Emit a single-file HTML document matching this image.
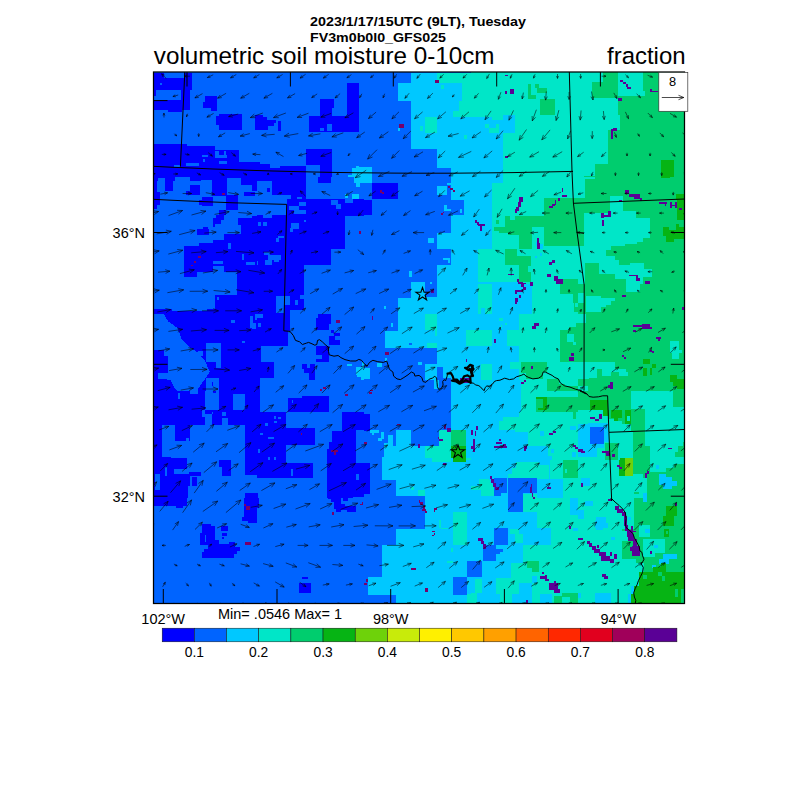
<!DOCTYPE html>
<html><head><meta charset="utf-8"><title>volumetric soil moisture 0-10cm</title>
<style>
html,body{margin:0;padding:0;background:#fff;}
svg{display:block;}
text{font-family:"Liberation Sans",sans-serif;fill:#000;}
</style></head><body>
<svg width="800" height="800" viewBox="0 0 800 800">
<rect width="800" height="800" fill="#fff"/>
<defs><clipPath id="pc"><rect x="153.5" y="72.0" width="531.0" height="531.5"/></clipPath></defs>
<g clip-path="url(#pc)" shape-rendering="crispEdges">
<rect x="153.5" y="72.0" width="531.0" height="531.5" fill="#0064ff"/>
<rect x="153.9" y="72.5" width="9.9" height="5.8" fill="#0000ff"/>
<rect x="153.9" y="78.3" width="38.1" height="11.7" fill="#0000ff"/>
<rect x="184.4" y="72.5" width="7.6" height="5.8" fill="#0000ff"/>
<rect x="160.3" y="83.1" width="1.8" height="2.1" fill="#0064ff"/>
<rect x="180.9" y="89.9" width="8.9" height="9.6" fill="#0000ff"/>
<rect x="153.9" y="99.6" width="36.0" height="10.3" fill="#0000ff"/>
<rect x="167.9" y="109.9" width="14.4" height="2.1" fill="#0000ff"/>
<rect x="153.9" y="89.9" width="2.3" height="6.2" fill="#0000ff"/>
<rect x="205.0" y="96.1" width="12.4" height="11.7" fill="#0000ff"/>
<rect x="202.9" y="102.3" width="2.1" height="5.5" fill="#0000ff"/>
<rect x="210.5" y="107.8" width="6.9" height="3.4" fill="#0000ff"/>
<rect x="218.8" y="114.0" width="23.1" height="15.8" fill="#0000ff"/>
<rect x="215.7" y="116.1" width="3.0" height="8.9" fill="#0000ff"/>
<rect x="254.5" y="115.4" width="5.5" height="14.4" fill="#0000ff"/>
<polygon points="153.9,144.3 187.1,144.3 187.1,145.6 214.6,145.6 214.6,149.8 239.4,149.8 239.4,162.1 260.0,162.1 260.0,180.0 153.9,180.0" fill="#0000ff"/>
<rect x="214.6" y="151.1" width="4.1" height="6.9" fill="#0064ff"/>
<rect x="218.8" y="155.3" width="8.3" height="2.8" fill="#0064ff"/>
<rect x="224.3" y="151.1" width="2.1" height="4.1" fill="#0064ff"/>
<rect x="202.3" y="155.3" width="5.5" height="1.7" fill="#0064ff"/>
<rect x="202.9" y="159.4" width="2.1" height="2.8" fill="#0064ff"/>
<rect x="218.8" y="160.8" width="8.3" height="2.8" fill="#0064ff"/>
<rect x="174.1" y="164.6" width="5.5" height="2.3" fill="#0064ff"/>
<rect x="185.8" y="162.8" width="13.1" height="3.4" fill="#0064ff"/>
<polygon points="257.0,115.4 263.2,115.4 263.2,117.4 267.3,117.4 267.3,120.2 276.3,120.2 276.3,122.9 274.2,122.9 274.2,126.4 268.0,126.4 268.0,129.8 257.0,129.8" fill="#0000ff"/>
<rect x="277.6" y="121.2" width="3.4" height="9.4" fill="#0000ff"/>
<rect x="347.1" y="83.1" width="11.7" height="48.8" fill="#0000ff"/>
<rect x="308.6" y="116.1" width="38.5" height="15.8" fill="#0000ff"/>
<rect x="320.3" y="98.9" width="13.5" height="17.2" fill="#0000ff"/>
<rect x="327.1" y="124.3" width="4.8" height="6.2" fill="#0064ff"/>
<rect x="320.3" y="128.4" width="3.4" height="3.0" fill="#0064ff"/>
<rect x="331.9" y="107.8" width="2.1" height="8.3" fill="#0064ff"/>
<rect x="306.2" y="149.1" width="25.7" height="30.9" fill="#0000ff"/>
<rect x="306.2" y="165.2" width="13.8" height="14.9" fill="#0064ff"/>
<polygon points="257.0,163.5 270.1,163.5 270.1,168.3 279.7,168.3 279.7,165.6 306.2,165.6 306.2,180.0 257.0,180.0" fill="#0000ff"/>
<polygon points="351.9,167.6 356.0,167.6 356.0,165.6 358.8,165.6 358.8,166.9 367.0,166.9 367.0,180.0 356.0,180.0 356.0,177.9 348.4,177.9 348.4,174.5 351.9,174.5" fill="#00c8ff"/>
<polygon points="410.8,72.5 474.0,72.5 474.0,180.0 450.6,180.0 450.6,167.6 436.9,167.6 436.9,149.1 410.8,149.1 410.8,100.9 397.7,100.9 397.7,83.1 410.8,83.1" fill="#00c8ff"/>
<polygon points="436.9,72.5 474.0,72.5 474.0,116.8 453.4,116.8 453.4,111.3 458.9,111.3 458.9,100.9 462.3,100.9 462.3,83.1 436.9,83.1" fill="#00e6c8"/>
<rect x="425.2" y="117.4" width="11.7" height="15.1" fill="#00e6c8"/>
<rect x="420.4" y="126.4" width="2.8" height="4.1" fill="#00e6c8"/>
<rect x="464.4" y="135.3" width="2.8" height="3.4" fill="#00e6c8"/>
<rect x="441.0" y="85.1" width="2.8" height="3.4" fill="#00e6c8"/>
<rect x="398.5" y="123.5" width="5.2" height="4.1" fill="#78006a"/>
<rect x="435.4" y="80.1" width="3.4" height="2.9" fill="#78006a"/>
<rect x="398.1" y="128.0" width="1.9" height="3.2" fill="#00c8ff"/>
<rect x="364.0" y="166.9" width="8.3" height="13.1" fill="#00c8ff"/>
<rect x="471.0" y="70.0" width="110.0" height="110.0" fill="#00e6c8"/>
<polygon points="471.0,117.4 491.6,117.4 491.6,120.2 503.3,120.2 503.3,115.4 515.0,115.4 515.0,132.6 503.3,132.6 503.3,180.0 471.0,180.0" fill="#00c8ff"/>
<rect x="485.4" y="124.3" width="3.4" height="4.1" fill="#00e6c8"/>
<rect x="488.9" y="128.4" width="9.6" height="4.1" fill="#00e6c8"/>
<rect x="495.8" y="124.3" width="2.8" height="6.2" fill="#00e6c8"/>
<rect x="540.4" y="98.9" width="14.4" height="15.8" fill="#00cd6e"/>
<rect x="528.1" y="83.8" width="3.2" height="14.9" fill="#00cd6e"/>
<rect x="531.2" y="94.5" width="5.2" height="4.1" fill="#00cd6e"/>
<rect x="537.3" y="87.6" width="9.4" height="5.5" fill="#00cd6e"/>
<rect x="534.9" y="83.8" width="4.1" height="3.9" fill="#00cd6e"/>
<rect x="505.1" y="90.6" width="2.3" height="3.0" fill="#5a0096"/>
<rect x="510.2" y="89.3" width="3.7" height="4.4" fill="#5a0096"/>
<rect x="505.1" y="75.0" width="2.8" height="1.1" fill="#5a0096"/>
<rect x="505.1" y="155.9" width="2.8" height="2.1" fill="#5a0096"/>
<rect x="578.0" y="70.0" width="110.0" height="110.0" fill="#00cd6e"/>
<polygon points="578.0,70.0 603.4,70.0 603.4,82.4 592.4,82.4 592.4,97.5 617.9,97.5 617.9,115.4 619.9,115.4 619.9,129.8 608.3,129.8 608.3,163.5 595.2,163.5 595.2,175.9 584.2,175.9 584.2,180.0 578.0,180.0" fill="#00e6c8"/>
<rect x="617.9" y="70.0" width="25.4" height="26.1" fill="#00e6c8"/>
<rect x="643.3" y="90.6" width="2.1" height="5.5" fill="#00e6c8"/>
<rect x="661.2" y="160.1" width="12.4" height="17.9" fill="#06b414"/>
<rect x="620.4" y="80.3" width="3.0" height="1.4" fill="#5a0096"/>
<rect x="623.4" y="81.7" width="2.8" height="2.1" fill="#5a0096"/>
<rect x="626.1" y="83.8" width="2.1" height="2.8" fill="#5a0096"/>
<rect x="627.1" y="86.5" width="3.9" height="2.1" fill="#5a0096"/>
<rect x="618.3" y="98.2" width="3.7" height="2.3" fill="#5a0096"/>
<rect x="650.2" y="89.3" width="2.1" height="2.8" fill="#5a0096"/>
<rect x="650.2" y="90.9" width="7.6" height="1.1" fill="#5a0096"/>
<rect x="611.4" y="129.1" width="1.7" height="10.3" fill="#5a0096"/>
<rect x="613.1" y="128.4" width="3.4" height="2.1" fill="#5a0096"/>
<rect x="150.0" y="177.0" width="110.0" height="110.0" fill="#0064ff"/>
<rect x="153.9" y="177.0" width="106.2" height="4.1" fill="#0000ff"/>
<rect x="157.6" y="178.1" width="7.6" height="6.5" fill="#0064ff"/>
<rect x="174.8" y="177.0" width="15.1" height="9.6" fill="#0064ff"/>
<rect x="200.9" y="179.8" width="11.0" height="11.0" fill="#0064ff"/>
<rect x="227.0" y="178.4" width="13.8" height="16.5" fill="#0064ff"/>
<rect x="243.5" y="185.3" width="8.3" height="6.9" fill="#0064ff"/>
<rect x="153.9" y="181.1" width="3.0" height="27.5" fill="#0000ff"/>
<rect x="156.9" y="192.1" width="3.4" height="12.4" fill="#0000ff"/>
<rect x="165.1" y="179.8" width="8.3" height="11.0" fill="#0000ff"/>
<rect x="189.9" y="185.3" width="9.6" height="9.6" fill="#0000ff"/>
<rect x="185.8" y="190.8" width="4.1" height="4.1" fill="#0000ff"/>
<rect x="211.9" y="181.1" width="15.1" height="14.4" fill="#0000ff"/>
<rect x="240.8" y="179.8" width="19.3" height="5.5" fill="#0000ff"/>
<rect x="251.8" y="185.3" width="8.3" height="5.5" fill="#0000ff"/>
<rect x="243.5" y="192.1" width="11.0" height="4.1" fill="#0000ff"/>
<rect x="202.3" y="196.9" width="10.3" height="8.9" fill="#0000ff"/>
<rect x="198.8" y="200.4" width="4.1" height="4.8" fill="#0000ff"/>
<rect x="226.3" y="194.9" width="11.7" height="15.1" fill="#0000ff"/>
<rect x="218.8" y="210.0" width="7.6" height="4.8" fill="#0000ff"/>
<rect x="216.0" y="214.8" width="8.3" height="4.8" fill="#0000ff"/>
<rect x="212.6" y="218.3" width="8.3" height="5.5" fill="#0000ff"/>
<rect x="212.6" y="223.8" width="2.8" height="2.8" fill="#0000ff"/>
<polygon points="183.7,245.8 198.8,245.8 198.8,243.0 212.6,243.0 212.6,240.3 224.3,240.3 224.3,234.1 241.4,234.1 241.4,225.1 238.0,225.1 238.0,218.3 251.8,218.3 251.8,215.5 260.0,215.5 260.0,287.0 236.6,287.0 236.6,271.9 224.3,271.9 224.3,266.4 212.6,266.4 212.6,271.9 196.8,271.9 196.8,276.7 183.7,276.7" fill="#0000ff"/>
<rect x="196.8" y="228.6" width="12.4" height="6.2" fill="#0000ff"/>
<rect x="202.9" y="227.2" width="4.8" height="2.1" fill="#0000ff"/>
<rect x="228.4" y="243.0" width="2.8" height="5.5" fill="#0064ff"/>
<rect x="212.6" y="260.9" width="10.3" height="2.8" fill="#0064ff"/>
<rect x="246.3" y="262.3" width="8.3" height="2.8" fill="#0064ff"/>
<rect x="242.1" y="254.0" width="2.1" height="5.5" fill="#0064ff"/>
<rect x="197.6" y="256.2" width="3.1" height="1.8" fill="#78006a"/>
<rect x="194.2" y="261.0" width="1.8" height="1.8" fill="#78006a"/>
<rect x="190.7" y="264.5" width="1.8" height="1.8" fill="#78006a"/>
<rect x="222.3" y="193.0" width="3.1" height="1.8" fill="#78006a"/>
<rect x="257.0" y="177.0" width="110.0" height="110.0" fill="#0000ff"/>
<polygon points="345.0,215.5 367.0,215.5 367.0,287.0 304.4,287.0 304.4,265.0 331.3,265.0 331.3,249.2 345.0,249.2" fill="#0064ff"/>
<polygon points="305.8,177.0 367.0,177.0 367.0,199.0 353.3,199.0 353.3,203.1 345.0,203.1 345.0,199.0 305.8,199.0" fill="#0064ff"/>
<rect x="331.3" y="199.7" width="6.9" height="4.8" fill="#0064ff"/>
<rect x="336.1" y="203.8" width="4.8" height="5.5" fill="#0064ff"/>
<rect x="318.2" y="177.0" width="13.1" height="5.5" fill="#0000ff"/>
<rect x="353.9" y="177.0" width="13.1" height="6.2" fill="#00c8ff"/>
<rect x="356.0" y="183.2" width="4.1" height="4.1" fill="#00c8ff"/>
<rect x="345.0" y="194.2" width="2.8" height="4.1" fill="#00c8ff"/>
<rect x="351.9" y="194.2" width="6.9" height="4.5" fill="#00c8ff"/>
<polygon points="257.0,181.1 272.1,181.1 272.1,194.9 291.4,194.9 291.4,199.0 286.6,199.0 286.6,214.8 257.0,214.8" fill="#0064ff"/>
<rect x="267.3" y="188.0" width="2.8" height="4.1" fill="#0000ff"/>
<rect x="296.9" y="196.9" width="5.5" height="2.1" fill="#0064ff"/>
<rect x="298.9" y="201.8" width="6.9" height="4.4" fill="#0064ff"/>
<rect x="289.3" y="206.2" width="9.6" height="3.9" fill="#0064ff"/>
<rect x="294.1" y="210.0" width="11.7" height="4.4" fill="#0064ff"/>
<rect x="303.8" y="220.3" width="2.1" height="2.1" fill="#0064ff"/>
<rect x="262.5" y="214.8" width="9.6" height="2.8" fill="#0064ff"/>
<rect x="258.4" y="222.4" width="2.8" height="3.4" fill="#0064ff"/>
<rect x="263.2" y="222.4" width="4.1" height="3.4" fill="#0064ff"/>
<rect x="290.7" y="223.1" width="8.3" height="6.2" fill="#0064ff"/>
<rect x="290.0" y="227.9" width="3.4" height="4.1" fill="#0064ff"/>
<rect x="277.6" y="236.1" width="6.2" height="2.1" fill="#0064ff"/>
<rect x="276.3" y="238.2" width="2.8" height="3.4" fill="#0064ff"/>
<rect x="263.9" y="251.9" width="6.2" height="3.4" fill="#0064ff"/>
<rect x="268.0" y="255.4" width="13.1" height="4.1" fill="#0064ff"/>
<rect x="273.5" y="259.5" width="5.5" height="2.1" fill="#0064ff"/>
<rect x="265.3" y="259.5" width="6.9" height="5.5" fill="#0064ff"/>
<rect x="257.0" y="260.9" width="1.4" height="4.1" fill="#0064ff"/>
<rect x="358.9" y="231.1" width="2.0" height="2.9" fill="#78006a"/>
<rect x="364.0" y="177.0" width="110.0" height="110.0" fill="#0064ff"/>
<polygon points="450.6,177.0 474.0,177.0 474.0,287.0 436.9,287.0 436.9,265.0 450.6,265.0 450.6,249.2 436.9,249.2 436.9,232.7 450.6,232.7 450.6,214.8 463.7,214.8 463.7,199.7 450.6,199.7" fill="#00c8ff"/>
<rect x="364.0" y="177.0" width="8.3" height="6.2" fill="#00c8ff"/>
<rect x="436.9" y="185.9" width="9.6" height="8.9" fill="#00c8ff"/>
<rect x="446.5" y="183.2" width="4.1" height="2.1" fill="#00c8ff"/>
<rect x="444.4" y="204.5" width="2.1" height="6.2" fill="#00c8ff"/>
<rect x="446.5" y="208.6" width="4.1" height="2.1" fill="#00c8ff"/>
<rect x="460.3" y="208.6" width="2.1" height="4.1" fill="#00c8ff"/>
<rect x="427.9" y="238.2" width="6.2" height="4.8" fill="#00c8ff"/>
<rect x="443.1" y="258.1" width="6.9" height="1.4" fill="#00c8ff"/>
<rect x="447.9" y="259.5" width="2.1" height="3.4" fill="#00c8ff"/>
<rect x="409.4" y="270.5" width="2.8" height="6.2" fill="#00c8ff"/>
<rect x="411.4" y="282.2" width="13.8" height="4.8" fill="#00c8ff"/>
<rect x="430.0" y="282.2" width="2.1" height="3.4" fill="#00c8ff"/>
<rect x="434.1" y="284.3" width="2.8" height="2.8" fill="#00c8ff"/>
<rect x="372.3" y="183.2" width="25.4" height="15.8" fill="#0000ff"/>
<rect x="364.0" y="199.7" width="8.3" height="15.1" fill="#0000ff"/>
<rect x="380.4" y="190.2" width="1.4" height="3.1" fill="#78006a"/>
<rect x="382.0" y="192.3" width="1.8" height="1.4" fill="#78006a"/>
<rect x="448.3" y="186.1" width="1.5" height="1.8" fill="#78006a"/>
<rect x="450.1" y="188.2" width="2.5" height="1.8" fill="#78006a"/>
<rect x="452.8" y="190.2" width="1.8" height="1.5" fill="#78006a"/>
<rect x="441.2" y="213.2" width="1.8" height="1.9" fill="#78006a"/>
<rect x="442.5" y="211.5" width="1.4" height="1.8" fill="#78006a"/>
<rect x="471.0" y="177.0" width="110.0" height="110.0" fill="#00e6c8"/>
<polygon points="471.0,177.0 503.3,177.0 503.3,183.2 491.6,183.2 491.6,249.2 477.9,249.2 477.9,281.5 517.8,281.5 517.8,287.0 471.0,287.0" fill="#00c8ff"/>
<polygon points="543.9,197.6 581.0,197.6 581.0,246.4 543.9,246.4 543.9,226.5 531.5,226.5 531.5,248.5 519.1,248.5 519.1,235.4 508.1,235.4 508.1,233.4 499.2,233.4 499.2,230.6 494.4,230.6 494.4,227.2 504.7,227.2 504.7,215.5 510.2,215.5 510.2,219.6 515.0,219.6 515.0,215.5 543.9,215.5" fill="#00cd6e"/>
<polygon points="505.4,249.2 517.1,249.2 517.1,256.1 530.8,256.1 530.8,266.4 528.1,266.4 528.1,271.9 530.8,271.9 530.8,281.5 519.1,281.5 519.1,265.0 505.4,265.0" fill="#00cd6e"/>
<rect x="561.8" y="279.4" width="19.3" height="7.6" fill="#00cd6e"/>
<rect x="496.4" y="220.3" width="2.1" height="3.4" fill="#00cd6e"/>
<rect x="519.1" y="197.4" width="3.9" height="4.4" fill="#5a0096"/>
<rect x="517.8" y="201.8" width="3.4" height="4.8" fill="#5a0096"/>
<rect x="515.7" y="206.6" width="3.4" height="4.8" fill="#5a0096"/>
<rect x="515.0" y="208.6" width="2.1" height="4.4" fill="#5a0096"/>
<rect x="561.8" y="188.3" width="1.4" height="3.9" fill="#5a0096"/>
<rect x="562.0" y="194.6" width="5.2" height="2.3" fill="#5a0096"/>
<rect x="557.9" y="197.6" width="2.2" height="3.4" fill="#5a0096"/>
<rect x="554.6" y="200.4" width="1.7" height="4.1" fill="#5a0096"/>
<rect x="552.1" y="203.8" width="3.0" height="2.3" fill="#5a0096"/>
<rect x="549.1" y="205.9" width="3.7" height="2.1" fill="#5a0096"/>
<rect x="475.1" y="220.3" width="1.7" height="2.8" fill="#5a0096"/>
<rect x="476.5" y="222.4" width="2.1" height="2.1" fill="#5a0096"/>
<rect x="478.2" y="224.0" width="6.6" height="2.2" fill="#5a0096"/>
<rect x="479.9" y="226.2" width="2.1" height="4.4" fill="#5a0096"/>
<rect x="537.0" y="238.2" width="2.1" height="4.8" fill="#5a0096"/>
<rect x="537.3" y="243.0" width="2.5" height="6.2" fill="#5a0096"/>
<rect x="535.6" y="241.6" width="1.4" height="4.1" fill="#00c8ff"/>
<rect x="539.8" y="244.4" width="2.8" height="4.1" fill="#00c8ff"/>
<rect x="540.4" y="252.6" width="1.4" height="3.4" fill="#00c8ff"/>
<rect x="534.9" y="256.1" width="2.1" height="2.1" fill="#00c8ff"/>
<rect x="552.1" y="259.5" width="2.8" height="3.4" fill="#5a0096"/>
<rect x="549.1" y="262.3" width="3.3" height="2.8" fill="#5a0096"/>
<rect x="508.1" y="273.9" width="5.5" height="1.4" fill="#5a0096"/>
<rect x="547.0" y="274.4" width="3.7" height="2.3" fill="#5a0096"/>
<rect x="553.5" y="276.0" width="4.1" height="4.8" fill="#5a0096"/>
<rect x="555.6" y="279.4" width="6.9" height="4.8" fill="#5a0096"/>
<rect x="517.1" y="279.4" width="2.1" height="2.1" fill="#5a0096"/>
<rect x="518.4" y="281.5" width="4.1" height="2.1" fill="#5a0096"/>
<rect x="521.9" y="282.9" width="4.1" height="2.8" fill="#5a0096"/>
<rect x="530.1" y="282.2" width="2.8" height="3.4" fill="#5a0096"/>
<rect x="578.0" y="177.0" width="110.0" height="110.0" fill="#00cd6e"/>
<rect x="578.0" y="177.0" width="6.9" height="20.6" fill="#00e6c8"/>
<rect x="584.9" y="177.0" width="10.3" height="2.1" fill="#00e6c8"/>
<polygon points="610.3,195.6 622.7,195.6 622.7,211.4 635.8,211.4 635.8,217.6 649.5,217.6 649.5,237.5 642.6,237.5 642.6,241.6 637.1,241.6 637.1,244.4 624.8,244.4 624.8,246.4 611.0,246.4 611.0,249.9 606.2,249.9 606.2,256.1 615.1,256.1 615.1,259.5 619.3,259.5 619.3,265.0 630.3,265.0 630.3,262.9 644.0,262.9 644.0,269.1 652.3,269.1 652.3,277.4 642.6,277.4 642.6,287.0 626.1,287.0 626.1,278.8 615.1,278.8 615.1,273.9 598.6,273.9 598.6,262.9 584.9,262.9 584.9,287.0 578.0,287.0 578.0,246.4 583.5,246.4 583.5,213.4 610.3,213.4" fill="#00e6c8"/>
<rect x="675.6" y="193.5" width="8.9" height="6.2" fill="#06b414"/>
<rect x="677.3" y="199.7" width="7.3" height="19.9" fill="#06b414"/>
<polygon points="663.3,226.5 668.8,226.5 668.8,229.9 676.3,229.9 676.3,224.4 679.1,224.4 679.1,226.5 684.6,226.5 684.6,238.9 674.3,238.9 674.3,242.3 666.0,242.3 666.0,236.1 663.3,236.1" fill="#06b414"/>
<rect x="661.2" y="177.0" width="8.3" height="1.1" fill="#06b414"/>
<rect x="625.4" y="190.1" width="3.4" height="4.1" fill="#5a0096"/>
<rect x="628.9" y="194.2" width="11.0" height="2.8" fill="#5a0096"/>
<rect x="633.7" y="196.3" width="6.2" height="2.8" fill="#5a0096"/>
<rect x="639.9" y="198.3" width="2.1" height="2.3" fill="#5a0096"/>
<rect x="618.6" y="199.7" width="3.4" height="2.1" fill="#5a0096"/>
<rect x="659.1" y="202.2" width="8.3" height="1.7" fill="#5a0096"/>
<rect x="664.6" y="203.8" width="1.7" height="2.3" fill="#5a0096"/>
<rect x="670.4" y="202.2" width="1.9" height="5.8" fill="#5a0096"/>
<rect x="672.3" y="204.5" width="2.6" height="1.4" fill="#5a0096"/>
<rect x="674.9" y="202.2" width="1.8" height="5.8" fill="#5a0096"/>
<rect x="679.1" y="208.4" width="2.8" height="1.7" fill="#5a0096"/>
<rect x="601.4" y="213.0" width="2.1" height="5.2" fill="#5a0096"/>
<rect x="603.4" y="214.8" width="4.1" height="2.1" fill="#5a0096"/>
<rect x="607.6" y="210.7" width="3.4" height="6.2" fill="#5a0096"/>
<rect x="602.1" y="220.3" width="1.8" height="5.5" fill="#5a0096"/>
<rect x="628.9" y="274.9" width="6.9" height="1.4" fill="#5a0096"/>
<rect x="635.8" y="275.3" width="2.1" height="2.8" fill="#5a0096"/>
<rect x="636.4" y="278.1" width="3.4" height="2.8" fill="#5a0096"/>
<rect x="645.4" y="281.1" width="4.8" height="2.5" fill="#5a0096"/>
<rect x="150.0" y="284.0" width="110.0" height="110.0" fill="#0000ff"/>
<polygon points="153.9,284.0 236.6,284.0 236.6,295.0 214.6,295.0 214.6,309.4 207.1,309.4 207.1,310.8 172.0,310.8 172.0,308.8 153.9,308.8" fill="#0064ff"/>
<polygon points="153.9,313.6 163.8,313.6 167.9,321.1 177.5,328.0 181.6,339.0 189.9,347.3 198.1,352.8 205.0,361.0 209.8,372.0 205.0,378.9 198.1,388.5 198.1,394.0 181.6,394.0 174.8,388.5 170.6,380.3 165.1,378.9 158.3,378.9 158.3,373.4 167.9,373.4 167.9,355.5 163.8,355.5 163.8,350.0 153.9,350.0" fill="#0064ff"/>
<rect x="206.4" y="343.1" width="14.4" height="18.6" fill="#0064ff"/>
<rect x="216.0" y="361.7" width="4.8" height="6.2" fill="#0064ff"/>
<rect x="198.1" y="351.4" width="4.8" height="4.1" fill="#0064ff"/>
<rect x="206.4" y="377.5" width="12.4" height="16.5" fill="#0064ff"/>
<rect x="211.9" y="381.6" width="1.4" height="4.1" fill="#0000ff"/>
<rect x="249.7" y="316.3" width="2.8" height="11.7" fill="#0064ff"/>
<rect x="252.4" y="323.2" width="3.4" height="5.5" fill="#0064ff"/>
<rect x="254.5" y="314.3" width="5.5" height="5.5" fill="#0064ff"/>
<rect x="231.1" y="320.0" width="3.9" height="3.2" fill="#0064ff"/>
<rect x="242.1" y="341.1" width="2.8" height="2.3" fill="#0064ff"/>
<rect x="216.7" y="297.1" width="2.1" height="2.8" fill="#0064ff"/>
<rect x="257.0" y="284.0" width="110.0" height="110.0" fill="#0064ff"/>
<polygon points="257.0,284.0 303.8,284.0 303.8,310.1 290.0,310.1 290.0,330.8 287.9,330.8 287.9,345.9 261.1,345.9 261.1,361.7 273.5,361.7 273.5,377.5 260.4,377.5 260.4,394.0 257.0,394.0" fill="#0000ff"/>
<rect x="276.3" y="295.7" width="13.8" height="8.9" fill="#0064ff"/>
<rect x="276.3" y="304.6" width="7.6" height="8.3" fill="#0064ff"/>
<rect x="294.8" y="299.8" width="2.8" height="4.8" fill="#0064ff"/>
<rect x="299.6" y="295.0" width="4.1" height="4.1" fill="#0064ff"/>
<rect x="257.0" y="314.3" width="5.5" height="4.1" fill="#0064ff"/>
<rect x="258.4" y="323.2" width="2.8" height="3.4" fill="#0064ff"/>
<polygon points="318.2,314.3 331.3,314.3 331.3,323.9 328.5,323.9 328.5,330.1 316.1,330.1 316.1,318.4 318.2,318.4" fill="#0000ff"/>
<rect x="331.3" y="330.1" width="2.8" height="2.8" fill="#0000ff"/>
<rect x="334.0" y="332.8" width="5.5" height="3.4" fill="#0000ff"/>
<rect x="329.2" y="336.3" width="6.2" height="8.9" fill="#0000ff"/>
<rect x="335.4" y="340.4" width="4.1" height="4.1" fill="#0000ff"/>
<polygon points="316.1,345.9 329.2,345.9 329.2,361.7 316.1,361.7 316.1,358.9 321.6,358.9 321.6,354.8 316.1,354.8" fill="#0000ff"/>
<polygon points="302.4,364.4 306.5,364.4 306.5,367.9 309.9,367.9 309.9,364.4 314.8,364.4 314.8,380.3 308.6,380.3 308.6,373.4 304.4,373.4 304.4,369.3 302.4,369.3" fill="#0000ff"/>
<polygon points="356.0,366.5 361.5,366.5 361.5,362.4 365.6,362.4 367.0,366.5 367.0,377.5 364.3,377.5 364.3,379.6 360.8,379.6 360.8,376.8 357.4,376.8 356.0,373.4" fill="#00c8ff"/>
<rect x="347.1" y="364.0" width="4.8" height="2.2" fill="#00c8ff"/>
<rect x="336.2" y="320.2" width="3.6" height="2.6" fill="#78006a"/>
<rect x="320.4" y="389.3" width="1.8" height="1.8" fill="#78006a"/>
<rect x="322.5" y="386.6" width="3.8" height="2.5" fill="#78006a"/>
<rect x="364.0" y="284.0" width="110.0" height="110.0" fill="#0064ff"/>
<polygon points="410.8,284.0 474.0,284.0 474.0,394.0 451.3,394.0 451.3,377.5 443.1,377.5 443.1,366.5 436.9,366.5 436.9,347.9 384.6,347.9 384.6,330.8 397.7,330.8 397.7,297.8 410.8,297.8" fill="#00c8ff"/>
<rect x="425.2" y="284.0" width="11.7" height="13.1" fill="#0064ff"/>
<rect x="424.5" y="364.4" width="12.4" height="15.8" fill="#00c8ff"/>
<rect x="434.1" y="380.3" width="4.8" height="8.3" fill="#00c8ff"/>
<rect x="418.3" y="362.4" width="3.4" height="2.1" fill="#00c8ff"/>
<rect x="364.0" y="367.9" width="6.2" height="11.0" fill="#00c8ff"/>
<rect x="377.1" y="363.1" width="4.8" height="3.4" fill="#00c8ff"/>
<rect x="383.9" y="306.0" width="2.1" height="3.4" fill="#00c8ff"/>
<rect x="391.2" y="323.2" width="1.7" height="3.4" fill="#00c8ff"/>
<rect x="384.6" y="357.6" width="2.1" height="3.4" fill="#00c8ff"/>
<rect x="425.2" y="314.3" width="11.7" height="15.8" fill="#00e6c8"/>
<rect x="434.8" y="330.1" width="2.1" height="6.2" fill="#00e6c8"/>
<rect x="426.6" y="343.1" width="10.3" height="4.8" fill="#00e6c8"/>
<rect x="466.4" y="330.1" width="7.6" height="15.8" fill="#00e6c8"/>
<rect x="408.7" y="342.9" width="2.8" height="2.3" fill="#0064ff"/>
<rect x="431.4" y="289.5" width="2.8" height="3.4" fill="#5a0096"/>
<rect x="372.3" y="315.6" width="1.1" height="4.4" fill="#5a0096"/>
<rect x="384.8" y="352.2" width="3.8" height="3.1" fill="#78006a"/>
<rect x="465.8" y="358.9" width="1.1" height="3.4" fill="#5a0096"/>
<rect x="370.3" y="390.0" width="2.5" height="3.8" fill="#78006a"/>
<rect x="460.3" y="377.5" width="9.6" height="5.5" fill="#5a0096"/>
<rect x="471.0" y="284.0" width="110.0" height="110.0" fill="#00e6c8"/>
<rect x="471.0" y="284.0" width="60.5" height="29.6" fill="#00c8ff"/>
<rect x="471.0" y="313.6" width="48.1" height="16.5" fill="#00c8ff"/>
<rect x="471.0" y="330.1" width="35.8" height="15.8" fill="#00c8ff"/>
<rect x="471.0" y="345.9" width="48.1" height="48.1" fill="#00c8ff"/>
<rect x="519.1" y="380.3" width="1.4" height="13.8" fill="#00c8ff"/>
<rect x="477.9" y="284.0" width="13.8" height="29.6" fill="#00e6c8"/>
<rect x="480.6" y="308.1" width="4.1" height="5.5" fill="#00c8ff"/>
<rect x="471.0" y="330.1" width="20.6" height="15.8" fill="#00e6c8"/>
<rect x="480.6" y="364.4" width="11.0" height="15.8" fill="#00e6c8"/>
<rect x="510.2" y="362.4" width="10.3" height="6.9" fill="#00e6c8"/>
<rect x="498.5" y="318.4" width="4.1" height="2.8" fill="#00e6c8"/>
<rect x="504.7" y="323.2" width="2.1" height="2.1" fill="#00e6c8"/>
<rect x="500.6" y="325.3" width="1.4" height="2.8" fill="#00e6c8"/>
<polygon points="560.4,284.0 581.0,284.0 581.0,311.5 574.1,311.5 574.1,302.6 572.8,302.6 572.8,294.3 560.4,294.3" fill="#00cd6e"/>
<rect x="574.8" y="303.3" width="4.8" height="4.1" fill="#00e6c8"/>
<polygon points="575.5,323.2 581.0,323.2 581.0,362.4 560.4,362.4 560.4,330.1 569.3,330.1 569.3,326.6 575.5,326.6" fill="#00cd6e"/>
<rect x="567.3" y="334.2" width="6.2" height="7.6" fill="#00e6c8"/>
<rect x="573.4" y="341.8" width="2.1" height="2.8" fill="#00e6c8"/>
<polygon points="521.2,362.4 546.6,362.4 546.6,372.0 542.5,372.0 542.5,378.9 526.0,378.9 526.0,373.4 521.2,373.4" fill="#00cd6e"/>
<polygon points="547.3,378.9 559.0,378.9 559.0,384.4 564.5,384.4 564.5,386.4 581.0,386.4 581.0,394.0 547.3,394.0" fill="#00cd6e"/>
<rect x="521.2" y="284.0" width="2.8" height="2.8" fill="#5a0096"/>
<rect x="523.3" y="286.8" width="2.8" height="3.4" fill="#5a0096"/>
<rect x="530.1" y="284.0" width="2.8" height="2.1" fill="#5a0096"/>
<rect x="515.0" y="290.2" width="7.6" height="2.1" fill="#5a0096"/>
<rect x="515.0" y="292.3" width="2.1" height="1.4" fill="#5a0096"/>
<rect x="519.1" y="295.0" width="2.1" height="3.4" fill="#5a0096"/>
<rect x="515.0" y="298.4" width="3.4" height="3.4" fill="#5a0096"/>
<rect x="515.0" y="301.9" width="1.7" height="2.1" fill="#5a0096"/>
<rect x="533.6" y="323.2" width="5.5" height="2.8" fill="#5a0096"/>
<rect x="531.5" y="325.9" width="4.8" height="2.8" fill="#5a0096"/>
<rect x="494.1" y="339.0" width="1.9" height="4.1" fill="#5a0096"/>
<rect x="571.4" y="352.8" width="2.1" height="2.8" fill="#5a0096"/>
<rect x="569.3" y="356.9" width="4.5" height="3.9" fill="#5a0096"/>
<rect x="531.1" y="366.2" width="2.1" height="2.8" fill="#5a0096"/>
<rect x="521.2" y="381.6" width="2.8" height="2.1" fill="#5a0096"/>
<rect x="523.9" y="380.3" width="2.1" height="1.7" fill="#5a0096"/>
<rect x="578.0" y="284.0" width="110.0" height="110.0" fill="#00cd6e"/>
<rect x="626.1" y="284.0" width="13.8" height="7.6" fill="#00e6c8"/>
<polygon points="586.3,295.7 600.7,295.7 600.7,297.8 615.1,297.8 615.1,300.5 611.0,300.5 611.0,304.6 605.5,304.6 605.5,307.4 600.7,307.4 600.7,311.5 586.3,311.5" fill="#00e6c8"/>
<rect x="578.0" y="292.9" width="5.5" height="9.6" fill="#00e6c8"/>
<rect x="578.0" y="313.6" width="8.3" height="8.9" fill="#00e6c8"/>
<polygon points="578.0,361.7 615.1,361.7 615.1,372.0 611.0,372.0 611.0,376.1 602.1,376.1 602.1,369.3 597.3,369.3 597.3,377.5 589.0,377.5 589.0,378.9 578.0,378.9" fill="#00e6c8"/>
<rect x="615.1" y="368.6" width="11.0" height="3.4" fill="#00e6c8"/>
<rect x="619.3" y="372.0" width="8.9" height="4.1" fill="#00e6c8"/>
<polygon points="670.1,341.1 679.1,341.1 679.1,350.0 681.8,350.0 681.8,352.8 679.1,352.8 679.1,358.9 671.5,358.9 671.5,352.8 670.1,352.8" fill="#00e6c8"/>
<rect x="578.0" y="385.8" width="9.6" height="8.3" fill="#00e6c8"/>
<rect x="642.6" y="358.9" width="6.9" height="4.8" fill="#06b414"/>
<rect x="643.3" y="367.9" width="3.4" height="8.3" fill="#06b414"/>
<rect x="652.3" y="364.4" width="3.4" height="3.4" fill="#06b414"/>
<rect x="649.5" y="367.9" width="2.1" height="6.9" fill="#06b414"/>
<polygon points="670.1,375.4 677.0,375.4 677.0,378.9 683.9,378.9 683.9,388.5 677.0,388.5 677.0,385.8 672.9,385.8 672.9,382.3 670.1,382.3" fill="#06b414"/>
<rect x="622.0" y="295.0" width="4.1" height="2.1" fill="#5a0096"/>
<rect x="681.8" y="306.7" width="2.8" height="2.8" fill="#5a0096"/>
<rect x="633.0" y="325.0" width="8.9" height="1.9" fill="#5a0096"/>
<rect x="641.9" y="323.9" width="8.3" height="5.5" fill="#5a0096"/>
<rect x="633.0" y="330.1" width="3.4" height="2.1" fill="#5a0096"/>
<rect x="650.2" y="327.3" width="2.1" height="1.8" fill="#5a0096"/>
<rect x="656.1" y="337.4" width="5.1" height="1.7" fill="#5a0096"/>
<rect x="657.8" y="339.0" width="1.7" height="2.1" fill="#5a0096"/>
<rect x="650.2" y="350.0" width="2.1" height="2.1" fill="#5a0096"/>
<rect x="652.0" y="351.4" width="1.9" height="1.7" fill="#5a0096"/>
<rect x="622.0" y="354.8" width="2.1" height="2.1" fill="#5a0096"/>
<rect x="623.7" y="356.9" width="2.5" height="2.1" fill="#5a0096"/>
<rect x="610.3" y="382.3" width="2.3" height="6.2" fill="#5a0096"/>
<rect x="608.3" y="385.1" width="2.1" height="2.8" fill="#5a0096"/>
<rect x="150.0" y="391.0" width="110.0" height="110.0" fill="#0000ff"/>
<rect x="189.9" y="391.0" width="8.3" height="2.8" fill="#0064ff"/>
<rect x="205.0" y="391.0" width="13.8" height="18.6" fill="#0064ff"/>
<rect x="213.3" y="391.0" width="2.8" height="2.1" fill="#0000ff"/>
<rect x="233.2" y="394.4" width="11.7" height="15.1" fill="#0064ff"/>
<rect x="178.2" y="393.1" width="1.4" height="6.2" fill="#0064ff"/>
<rect x="201.6" y="410.3" width="3.4" height="6.9" fill="#0064ff"/>
<rect x="205.0" y="413.7" width="6.9" height="11.7" fill="#0064ff"/>
<rect x="211.9" y="411.6" width="1.4" height="2.8" fill="#0064ff"/>
<rect x="222.2" y="412.3" width="3.4" height="3.4" fill="#0064ff"/>
<rect x="222.2" y="417.8" width="5.5" height="7.6" fill="#0064ff"/>
<polygon points="162.4,425.4 175.4,425.4 175.4,440.5 189.9,440.5 189.9,425.4 244.9,425.4 244.9,474.9 260.0,474.9 260.0,501.0 257.3,501.0 257.3,493.4 244.9,493.4 244.9,501.0 187.8,501.0 187.8,485.9 189.9,485.9 189.9,476.3 200.9,476.3 200.9,472.1 189.2,472.1 189.2,473.5 174.1,473.5 174.1,469.4 187.1,469.4 187.1,458.4 171.3,458.4 171.3,457.0 162.4,457.0" fill="#0064ff"/>
<polygon points="218.8,460.4 231.1,460.4 231.1,475.6 222.2,475.6 222.2,467.3 218.8,467.3" fill="#0000ff"/>
<rect x="191.9" y="476.9" width="4.8" height="8.9" fill="#0000ff"/>
<rect x="185.5" y="437.5" width="3.7" height="3.7" fill="#0064ff"/>
<rect x="154.8" y="473.5" width="4.8" height="16.5" fill="#0064ff"/>
<rect x="165.1" y="467.3" width="2.1" height="8.3" fill="#0064ff"/>
<rect x="257.9" y="449.4" width="2.1" height="4.1" fill="#0064ff"/>
<rect x="257.0" y="391.0" width="110.0" height="110.0" fill="#0064ff"/>
<rect x="257.0" y="391.0" width="3.4" height="20.6" fill="#0000ff"/>
<polygon points="287.9,397.9 302.4,397.9 302.4,396.2 329.2,396.2 329.2,411.6 287.9,411.6" fill="#0000ff"/>
<polygon points="257.0,411.6 285.9,411.6 285.9,428.1 314.8,428.1 314.8,445.3 285.9,445.3 285.9,462.5 312.7,462.5 312.7,477.6 257.0,477.6" fill="#0000ff"/>
<polygon points="341.6,412.3 367.0,412.3 367.0,430.2 356.0,430.2 356.0,462.5 367.0,462.5 367.0,484.5 363.6,484.5 363.6,496.9 353.3,496.9 353.3,501.0 327.1,501.0 327.1,448.8 329.2,448.8 329.2,441.9 331.9,441.9 331.9,430.9 341.6,430.9" fill="#0000ff"/>
<rect x="356.0" y="473.5" width="2.8" height="6.9" fill="#0064ff"/>
<rect x="257.0" y="493.4" width="1.4" height="7.6" fill="#0000ff"/>
<rect x="274.2" y="416.4" width="2.1" height="2.8" fill="#0064ff"/>
<rect x="277.6" y="417.1" width="3.4" height="2.1" fill="#0064ff"/>
<rect x="274.2" y="421.3" width="2.8" height="2.1" fill="#0064ff"/>
<rect x="265.3" y="423.3" width="2.8" height="2.8" fill="#0064ff"/>
<rect x="260.4" y="432.9" width="2.8" height="2.1" fill="#0064ff"/>
<rect x="268.0" y="437.1" width="6.2" height="2.1" fill="#0064ff"/>
<rect x="258.4" y="449.4" width="1.7" height="3.4" fill="#0064ff"/>
<rect x="268.0" y="457.0" width="2.1" height="2.8" fill="#0064ff"/>
<rect x="274.2" y="457.0" width="2.1" height="2.8" fill="#0064ff"/>
<rect x="290.7" y="469.4" width="2.1" height="6.2" fill="#0064ff"/>
<rect x="292.1" y="399.9" width="1.0" height="3.4" fill="#0064ff"/>
<rect x="345.2" y="394.2" width="2.5" height="1.9" fill="#78006a"/>
<rect x="300.5" y="433.1" width="1.8" height="1.8" fill="#78006a"/>
<rect x="331.4" y="449.6" width="6.6" height="2.5" fill="#78006a"/>
<rect x="334.2" y="452.3" width="2.2" height="2.5" fill="#78006a"/>
<rect x="364.4" y="441.3" width="2.5" height="2.5" fill="#78006a"/>
<rect x="364.0" y="391.0" width="110.0" height="110.0" fill="#0064ff"/>
<polygon points="450.6,391.0 474.0,391.0 474.0,501.0 425.2,501.0 425.2,496.2 396.3,496.2 396.3,480.4 381.9,480.4 381.9,457.0 383.9,457.0 383.9,446.0 396.3,446.0 396.3,430.2 411.4,430.2 411.4,446.0 438.9,446.0 438.9,430.2 450.6,430.2" fill="#00c8ff"/>
<rect x="370.2" y="430.2" width="8.3" height="2.8" fill="#00c8ff"/>
<rect x="372.3" y="432.9" width="2.1" height="2.1" fill="#00c8ff"/>
<rect x="380.5" y="432.3" width="3.4" height="6.2" fill="#00c8ff"/>
<rect x="377.8" y="438.4" width="4.1" height="2.8" fill="#00c8ff"/>
<rect x="388.1" y="435.0" width="4.8" height="11.0" fill="#00c8ff"/>
<rect x="383.9" y="442.6" width="4.1" height="3.4" fill="#00c8ff"/>
<rect x="364.0" y="414.4" width="6.2" height="16.5" fill="#0000ff"/>
<rect x="364.0" y="462.5" width="6.2" height="31.6" fill="#0000ff"/>
<polygon points="438.9,430.2 451.3,430.2 451.3,461.8 432.1,461.8 432.1,458.4 425.2,458.4 425.2,446.0 438.9,446.0" fill="#00e6c8"/>
<rect x="465.8" y="457.7" width="4.8" height="2.1" fill="#00e6c8"/>
<rect x="451.3" y="430.2" width="14.4" height="15.8" fill="#00cd6e"/>
<rect x="451.3" y="446.0" width="14.4" height="12.4" fill="#06b414"/>
<rect x="453.4" y="458.4" width="12.4" height="3.4" fill="#06b414"/>
<rect x="418.3" y="490.0" width="6.2" height="5.5" fill="#00e6c8"/>
<rect x="411.4" y="487.3" width="2.1" height="2.8" fill="#00e6c8"/>
<rect x="446.5" y="428.1" width="4.1" height="4.1" fill="#5a0096"/>
<rect x="444.4" y="425.4" width="1.4" height="3.4" fill="#5a0096"/>
<rect x="437.6" y="437.1" width="1.8" height="2.1" fill="#5a0096"/>
<rect x="438.9" y="439.1" width="4.1" height="1.7" fill="#5a0096"/>
<rect x="418.3" y="443.9" width="1.7" height="4.1" fill="#5a0096"/>
<rect x="471.3" y="430.2" width="1.4" height="4.8" fill="#5a0096"/>
<rect x="471.3" y="446.0" width="2.8" height="2.8" fill="#5a0096"/>
<rect x="472.6" y="439.1" width="1.4" height="12.4" fill="#5a0096"/>
<rect x="443.1" y="462.5" width="2.8" height="2.1" fill="#5a0096"/>
<rect x="364.1" y="442.0" width="3.1" height="1.8" fill="#78006a"/>
<rect x="397.2" y="423.5" width="2.5" height="1.8" fill="#78006a"/>
<rect x="369.0" y="391.8" width="3.1" height="1.8" fill="#78006a"/>
<rect x="418.3" y="499.6" width="1.4" height="1.4" fill="#5a0096"/>
<rect x="471.0" y="391.0" width="110.0" height="110.0" fill="#00c8ff"/>
<polygon points="521.2,391.0 535.6,391.0 535.6,411.6 581.0,411.6 581.0,459.8 563.1,459.8 563.1,479.0 550.1,479.0 550.1,459.8 552.1,459.8 552.1,455.6 548.0,455.6 548.0,446.0 528.1,446.0 528.1,432.3 515.0,432.3 515.0,429.5 498.5,429.5 498.5,420.6 502.6,420.6 502.6,417.1 519.1,417.1 519.1,411.6 521.2,411.6" fill="#00e6c8"/>
<polygon points="516.4,461.8 539.1,461.8 539.1,465.3 549.4,465.3 549.4,479.0 537.0,479.0 537.0,477.6 508.1,477.6 508.1,473.5 512.3,473.5 512.3,468.0 516.4,468.0" fill="#00e6c8"/>
<polygon points="479.3,479.0 488.9,479.0 493.7,487.3 493.7,495.5 480.6,495.5 480.6,490.0 471.0,490.0 471.0,485.9 479.3,485.9" fill="#00e6c8"/>
<rect x="523.3" y="494.1" width="13.8" height="6.9" fill="#00e6c8"/>
<rect x="563.1" y="477.6" width="17.9" height="23.4" fill="#00e6c8"/>
<rect x="539.8" y="430.9" width="4.1" height="5.5" fill="#00c8ff"/>
<rect x="570.0" y="426.1" width="5.5" height="4.1" fill="#00c8ff"/>
<rect x="572.1" y="451.5" width="3.4" height="5.5" fill="#00c8ff"/>
<rect x="550.8" y="448.8" width="2.8" height="4.1" fill="#00c8ff"/>
<rect x="535.6" y="391.0" width="45.4" height="5.5" fill="#00e6c8"/>
<rect x="535.6" y="396.5" width="45.4" height="15.1" fill="#00cd6e"/>
<rect x="573.4" y="411.6" width="2.8" height="6.9" fill="#00cd6e"/>
<rect x="563.1" y="460.4" width="14.4" height="17.2" fill="#00cd6e"/>
<rect x="565.2" y="469.4" width="2.1" height="3.4" fill="#00e6c8"/>
<rect x="535.6" y="396.5" width="11.0" height="2.8" fill="#06b414"/>
<rect x="543.2" y="399.3" width="3.4" height="8.9" fill="#06b414"/>
<rect x="538.4" y="407.5" width="8.3" height="2.8" fill="#06b414"/>
<polygon points="493.7,478.3 506.8,478.3 506.8,493.4 500.6,493.4 500.6,495.5 493.7,495.5" fill="#0064ff"/>
<rect x="508.1" y="478.3" width="28.9" height="15.1" fill="#0064ff"/>
<rect x="508.1" y="493.4" width="15.1" height="7.6" fill="#0064ff"/>
<rect x="475.8" y="426.1" width="2.1" height="4.1" fill="#5a0096"/>
<rect x="471.0" y="430.2" width="2.1" height="4.8" fill="#5a0096"/>
<rect x="475.1" y="430.9" width="1.1" height="5.5" fill="#5a0096"/>
<rect x="473.1" y="439.1" width="1.8" height="12.4" fill="#5a0096"/>
<rect x="471.0" y="446.0" width="2.1" height="2.8" fill="#5a0096"/>
<rect x="499.2" y="439.1" width="1.8" height="2.1" fill="#5a0096"/>
<rect x="496.4" y="441.9" width="5.5" height="2.1" fill="#5a0096"/>
<rect x="494.4" y="446.0" width="12.4" height="2.1" fill="#5a0096"/>
<rect x="503.3" y="443.9" width="2.8" height="2.1" fill="#5a0096"/>
<rect x="523.9" y="446.0" width="3.4" height="2.8" fill="#5a0096"/>
<rect x="523.9" y="448.8" width="2.1" height="2.1" fill="#5a0096"/>
<rect x="549.1" y="432.9" width="4.1" height="2.1" fill="#5a0096"/>
<rect x="553.2" y="430.9" width="2.8" height="2.1" fill="#5a0096"/>
<rect x="573.4" y="445.3" width="2.1" height="2.1" fill="#5a0096"/>
<rect x="574.8" y="447.1" width="2.8" height="1.9" fill="#5a0096"/>
<rect x="577.6" y="448.8" width="3.4" height="2.1" fill="#5a0096"/>
<rect x="489.6" y="476.3" width="2.1" height="2.8" fill="#5a0096"/>
<rect x="491.4" y="479.0" width="2.3" height="4.1" fill="#5a0096"/>
<rect x="493.0" y="483.1" width="2.8" height="4.1" fill="#5a0096"/>
<rect x="495.1" y="487.3" width="4.1" height="2.8" fill="#5a0096"/>
<rect x="530.8" y="483.8" width="1.4" height="3.4" fill="#5a0096"/>
<rect x="530.1" y="487.3" width="1.4" height="5.5" fill="#5a0096"/>
<rect x="531.5" y="492.8" width="1.7" height="4.1" fill="#5a0096"/>
<rect x="532.9" y="496.9" width="2.1" height="2.1" fill="#5a0096"/>
<rect x="547.0" y="487.3" width="3.7" height="1.7" fill="#5a0096"/>
<rect x="578.0" y="391.0" width="110.0" height="110.0" fill="#00e6c8"/>
<polygon points="578.0,391.0 630.9,391.0 630.9,408.9 645.4,408.9 645.4,431.6 630.9,431.6 630.9,424.0 622.0,424.0 622.0,421.3 613.8,421.3 613.8,418.5 607.6,418.5 607.6,410.3 578.0,410.3" fill="#00cd6e"/>
<rect x="589.7" y="399.9" width="17.9" height="9.6" fill="#06b414"/>
<rect x="611.0" y="410.3" width="11.0" height="7.6" fill="#06b414"/>
<rect x="614.4" y="417.8" width="3.4" height="3.4" fill="#06b414"/>
<rect x="624.8" y="410.3" width="6.2" height="13.8" fill="#06b414"/>
<rect x="626.8" y="416.4" width="2.8" height="4.1" fill="#00e6c8"/>
<rect x="602.8" y="409.6" width="6.2" height="6.2" fill="#06b414"/>
<polygon points="633.0,431.6 645.4,431.6 645.4,446.0 650.2,446.0 650.2,472.1 666.0,472.1 666.0,468.0 674.3,468.0 674.3,463.9 684.6,463.9 684.6,501.0 646.8,501.0 646.8,477.6 642.6,477.6 642.6,473.5 633.0,473.5" fill="#00cd6e"/>
<rect x="634.4" y="492.1" width="4.1" height="2.1" fill="#00cd6e"/>
<rect x="672.9" y="391.0" width="11.7" height="15.8" fill="#00cd6e"/>
<polygon points="682.5,441.9 684.6,441.9 684.6,457.0 674.9,457.0 674.9,451.5 678.4,451.5 678.4,446.0 682.5,446.0" fill="#00cd6e"/>
<rect x="604.8" y="442.6" width="13.1" height="17.2" fill="#00cd6e"/>
<rect x="618.6" y="459.8" width="6.9" height="15.8" fill="#06b414"/>
<rect x="625.4" y="458.4" width="7.6" height="17.2" fill="#6ed20a"/>
<rect x="619.9" y="458.4" width="5.5" height="2.1" fill="#06b414"/>
<polygon points="578.0,424.0 587.6,424.0 587.6,422.6 607.6,422.6 607.6,432.3 608.9,432.3 608.9,441.9 604.1,441.9 604.1,448.1 597.3,448.1 597.3,457.0 578.0,457.0" fill="#00c8ff"/>
<rect x="580.8" y="478.3" width="8.9" height="7.6" fill="#00c8ff"/>
<polygon points="659.1,473.5 666.0,473.5 666.0,476.9 671.5,476.9 671.5,481.1 677.0,481.1 677.0,485.9 671.5,485.9 671.5,489.3 663.3,489.3 663.3,484.5 659.1,484.5" fill="#00c8ff"/>
<rect x="642.6" y="492.8" width="4.1" height="8.3" fill="#00c8ff"/>
<rect x="656.4" y="465.3" width="2.8" height="3.4" fill="#00c8ff"/>
<rect x="590.4" y="426.5" width="13.8" height="17.5" fill="#0064ff"/>
<rect x="590.4" y="417.1" width="4.1" height="2.1" fill="#5a0096"/>
<rect x="594.5" y="418.5" width="4.1" height="2.1" fill="#5a0096"/>
<rect x="598.6" y="414.4" width="3.4" height="4.1" fill="#5a0096"/>
<rect x="578.0" y="449.4" width="4.8" height="2.1" fill="#5a0096"/>
<rect x="581.4" y="450.8" width="3.4" height="2.1" fill="#5a0096"/>
<rect x="602.1" y="451.1" width="6.9" height="1.8" fill="#5a0096"/>
<rect x="606.2" y="452.9" width="4.1" height="3.4" fill="#5a0096"/>
<rect x="612.4" y="454.3" width="2.5" height="2.5" fill="#5a0096"/>
<rect x="617.2" y="465.3" width="2.8" height="2.1" fill="#5a0096"/>
<rect x="619.3" y="466.9" width="2.8" height="2.2" fill="#5a0096"/>
<rect x="645.4" y="472.8" width="1.8" height="4.8" fill="#5a0096"/>
<rect x="646.8" y="471.4" width="2.1" height="2.1" fill="#5a0096"/>
<rect x="668.1" y="447.7" width="4.1" height="1.4" fill="#5a0096"/>
<rect x="581.0" y="483.1" width="1.8" height="3.4" fill="#5a0096"/>
<rect x="608.3" y="499.6" width="2.8" height="1.4" fill="#5a0096"/>
<rect x="150.0" y="498.0" width="110.0" height="110.0" fill="#0064ff"/>
<rect x="153.9" y="498.0" width="33.3" height="7.6" fill="#0000ff"/>
<rect x="176.1" y="505.6" width="6.9" height="2.1" fill="#0000ff"/>
<polygon points="244.2,498.0 256.6,498.0 256.6,523.4 247.6,523.4 247.6,520.7 242.1,520.7 242.1,516.6 244.2,516.6" fill="#0000ff"/>
<polygon points="201.6,524.1 210.5,524.1 210.5,526.2 214.6,526.2 214.6,539.9 218.8,539.9 218.8,544.1 229.1,544.1 229.1,542.0 235.3,542.0 235.3,546.8 240.1,546.8 240.1,550.9 236.6,550.9 236.6,554.4 233.9,554.4 233.9,557.8 201.6,557.8 201.6,552.3 203.6,552.3 203.6,548.9 207.8,548.9 207.8,544.8 199.5,544.8 199.5,533.1 201.6,533.1" fill="#0000ff"/>
<rect x="220.8" y="526.2" width="6.9" height="4.8" fill="#0000ff"/>
<rect x="221.5" y="533.1" width="5.5" height="2.8" fill="#0000ff"/>
<rect x="221.5" y="537.2" width="2.1" height="2.1" fill="#0000ff"/>
<rect x="205.0" y="535.1" width="1.4" height="6.9" fill="#0064ff"/>
<rect x="244.3" y="503.7" width="1.8" height="2.5" fill="#78006a"/>
<rect x="246.4" y="505.7" width="3.8" height="3.8" fill="#78006a"/>
<rect x="245.0" y="542.2" width="5.9" height="2.5" fill="#78006a"/>
<rect x="257.0" y="498.0" width="110.0" height="110.0" fill="#0064ff"/>
<rect x="257.0" y="498.0" width="1.7" height="9.6" fill="#0000ff"/>
<polygon points="327.8,498.0 340.9,498.0 340.9,504.2 345.0,504.2 345.0,506.3 356.0,506.3 356.0,511.8 347.1,511.8 347.1,509.7 340.9,509.7 340.9,511.8 336.1,511.8 336.1,509.0 334.0,509.0 334.0,502.1 331.3,502.1 331.3,499.4 327.8,499.4" fill="#0000ff"/>
<rect x="342.9" y="498.0" width="4.8" height="2.8" fill="#0000ff"/>
<rect x="298.9" y="583.3" width="12.0" height="9.6" fill="#0000ff"/>
<rect x="302.1" y="577.1" width="5.8" height="1.8" fill="#0000ff"/>
<rect x="359.6" y="504.3" width="3.8" height="1.1" fill="#78006a"/>
<rect x="362.3" y="501.6" width="1.1" height="2.5" fill="#78006a"/>
<rect x="332.1" y="511.9" width="1.5" height="3.1" fill="#78006a"/>
<rect x="365.8" y="579.3" width="1.1" height="3.8" fill="#78006a"/>
<rect x="364.4" y="582.7" width="1.4" height="3.1" fill="#78006a"/>
<rect x="364.3" y="511.8" width="2.8" height="1.4" fill="#00c8ff"/>
<rect x="364.0" y="498.0" width="110.0" height="110.0" fill="#00c8ff"/>
<polygon points="364.0,498.0 425.2,498.0 425.2,528.9 396.3,528.9 396.3,544.8 381.9,544.8 381.9,577.1 368.1,577.1 368.1,594.9 396.3,594.9 396.3,608.0 364.0,608.0" fill="#0064ff"/>
<rect x="467.1" y="561.3" width="6.9" height="15.8" fill="#0064ff"/>
<rect x="453.4" y="577.1" width="13.8" height="17.9" fill="#0064ff"/>
<rect x="453.4" y="512.4" width="13.8" height="32.3" fill="#00e6c8"/>
<rect x="467.1" y="594.3" width="6.9" height="13.8" fill="#00e6c8"/>
<rect x="438.9" y="520.0" width="2.1" height="8.3" fill="#00e6c8"/>
<rect x="441.0" y="527.6" width="6.9" height="1.4" fill="#00e6c8"/>
<rect x="446.5" y="561.3" width="6.9" height="2.1" fill="#00e6c8"/>
<rect x="451.3" y="547.5" width="1.4" height="4.1" fill="#00e6c8"/>
<rect x="418.5" y="499.5" width="1.8" height="3.1" fill="#78006a"/>
<rect x="419.8" y="502.3" width="3.1" height="2.5" fill="#78006a"/>
<rect x="423.3" y="505.7" width="1.4" height="3.8" fill="#78006a"/>
<rect x="421.9" y="509.2" width="4.5" height="1.8" fill="#78006a"/>
<rect x="424.7" y="510.5" width="2.2" height="2.2" fill="#78006a"/>
<rect x="434.3" y="508.1" width="2.5" height="1.5" fill="#78006a"/>
<rect x="434.3" y="509.8" width="1.1" height="1.8" fill="#78006a"/>
<rect x="432.2" y="531.2" width="2.5" height="1.1" fill="#78006a"/>
<rect x="433.6" y="532.5" width="1.1" height="2.5" fill="#78006a"/>
<rect x="432.2" y="534.6" width="1.8" height="1.1" fill="#78006a"/>
<rect x="411.2" y="568.3" width="4.7" height="1.5" fill="#78006a"/>
<rect x="425.1" y="588.2" width="2.7" height="3.8" fill="#78006a"/>
<rect x="364.1" y="582.7" width="2.5" height="2.5" fill="#78006a"/>
<rect x="366.2" y="579.3" width="1.8" height="3.1" fill="#78006a"/>
<rect x="471.0" y="498.0" width="110.0" height="110.0" fill="#00c8ff"/>
<polygon points="523.3,498.0 581.0,498.0 581.0,608.0 552.1,608.0 552.1,594.3 539.8,594.3 539.8,608.0 531.5,608.0 531.5,583.3 537.0,583.3 537.0,576.4 523.3,576.4 523.3,544.8 550.8,544.8 550.8,528.3 537.0,528.3 537.0,511.8 523.3,511.8" fill="#00e6c8"/>
<rect x="510.2" y="528.9" width="8.3" height="4.8" fill="#00e6c8"/>
<rect x="515.0" y="533.8" width="7.6" height="9.6" fill="#00e6c8"/>
<polygon points="495.8,577.8 510.9,577.8 510.9,562.6 523.3,562.6 523.3,576.4 531.5,576.4 531.5,583.3 519.1,583.3 519.1,594.3 512.3,594.3 512.3,608.0 499.9,608.0 499.9,594.3 495.8,594.3" fill="#00e6c8"/>
<rect x="475.1" y="579.1" width="6.9" height="13.8" fill="#00e6c8"/>
<rect x="471.0" y="592.9" width="5.5" height="15.1" fill="#00e6c8"/>
<rect x="570.0" y="498.0" width="11.0" height="16.5" fill="#00c8ff"/>
<rect x="573.4" y="527.6" width="7.6" height="3.4" fill="#00c8ff"/>
<polygon points="527.4,560.6 539.1,560.6 539.1,572.3 531.5,572.3 531.5,568.1 527.4,568.1" fill="#00cd6e"/>
<polygon points="553.5,595.6 561.8,595.6 561.8,592.9 581.0,592.9 581.0,608.0 570.0,608.0 570.0,597.0 562.4,597.0 562.4,608.0 553.5,608.0" fill="#00cd6e"/>
<rect x="508.1" y="498.0" width="14.9" height="13.8" fill="#0064ff"/>
<rect x="494.4" y="528.3" width="13.5" height="16.5" fill="#0064ff"/>
<polygon points="482.7,545.4 495.8,545.4 495.8,548.9 502.6,548.9 502.6,551.6 499.9,551.6 499.9,554.4 495.8,554.4 495.8,560.6 482.7,560.6" fill="#0064ff"/>
<rect x="471.0" y="561.3" width="11.0" height="15.4" fill="#0064ff"/>
<rect x="477.9" y="537.9" width="4.8" height="2.8" fill="#5a0096"/>
<rect x="480.6" y="540.6" width="3.4" height="3.4" fill="#5a0096"/>
<rect x="482.7" y="544.1" width="3.4" height="4.8" fill="#5a0096"/>
<rect x="541.8" y="572.3" width="2.1" height="2.1" fill="#5a0096"/>
<rect x="539.8" y="576.4" width="5.5" height="2.1" fill="#5a0096"/>
<rect x="545.3" y="575.0" width="2.1" height="5.5" fill="#5a0096"/>
<rect x="547.3" y="579.1" width="2.1" height="2.1" fill="#5a0096"/>
<rect x="553.5" y="580.5" width="2.1" height="2.8" fill="#5a0096"/>
<rect x="549.4" y="583.3" width="8.3" height="6.2" fill="#5a0096"/>
<rect x="553.5" y="588.8" width="6.2" height="4.1" fill="#5a0096"/>
<rect x="569.3" y="526.2" width="2.1" height="2.8" fill="#5a0096"/>
<rect x="578.3" y="537.9" width="2.8" height="2.1" fill="#5a0096"/>
<rect x="532.9" y="498.0" width="2.1" height="1.1" fill="#5a0096"/>
<rect x="526.0" y="600.4" width="2.1" height="3.4" fill="#5a0096"/>
<rect x="578.0" y="498.0" width="110.0" height="110.0" fill="#00e6c8"/>
<polygon points="634.4,498.0 684.6,498.0 684.6,572.3 644.0,572.3 644.0,562.6 635.8,562.6 635.8,558.5 622.0,558.5 622.0,540.6 630.3,540.6 630.3,531.0 622.0,531.0 622.0,528.9 634.4,528.9" fill="#00cd6e"/>
<rect x="638.5" y="524.8" width="11.0" height="11.7" fill="#00e6c8"/>
<polygon points="642.6,539.3 664.6,539.3 664.6,553.0 655.0,553.0 655.0,557.1 642.6,557.1" fill="#00e6c8"/>
<rect x="642.6" y="498.0" width="4.1" height="4.1" fill="#00c8ff"/>
<rect x="663.3" y="554.4" width="13.8" height="4.1" fill="#00c8ff"/>
<rect x="659.1" y="558.5" width="9.6" height="5.5" fill="#00c8ff"/>
<rect x="652.3" y="564.7" width="4.1" height="2.8" fill="#00c8ff"/>
<rect x="654.3" y="545.4" width="3.4" height="2.8" fill="#00c8ff"/>
<rect x="645.4" y="528.9" width="4.1" height="4.1" fill="#00c8ff"/>
<polygon points="638.5,572.3 684.6,572.3 684.6,608.0 630.9,608.0 630.9,594.3 634.4,594.3 634.4,586.0 638.5,586.0" fill="#06b414"/>
<polygon points="666.0,506.3 677.0,506.3 677.0,515.9 674.3,515.9 674.3,525.5 663.3,525.5 663.3,515.9 666.0,515.9" fill="#06b414"/>
<rect x="663.9" y="528.9" width="5.5" height="7.6" fill="#06b414"/>
<rect x="666.0" y="531.0" width="2.1" height="3.4" fill="#00cd6e"/>
<polygon points="652.9,567.4 660.5,567.4 660.5,562.6 666.0,562.6 666.0,572.3 652.9,572.3" fill="#06b414"/>
<rect x="642.6" y="575.0" width="4.1" height="4.1" fill="#00cd6e"/>
<rect x="657.8" y="572.3" width="4.1" height="4.1" fill="#00cd6e"/>
<rect x="661.9" y="576.4" width="3.4" height="4.1" fill="#00cd6e"/>
<rect x="674.9" y="588.8" width="3.4" height="8.3" fill="#00cd6e"/>
<rect x="681.1" y="588.8" width="3.4" height="19.3" fill="#00cd6e"/>
<rect x="584.9" y="500.8" width="7.6" height="5.5" fill="#00c8ff"/>
<rect x="578.0" y="510.4" width="5.5" height="8.3" fill="#00c8ff"/>
<polygon points="595.9,517.3 605.5,517.3 605.5,522.8 607.6,522.8 607.6,527.6 602.8,527.6 602.8,530.3 595.9,530.3 595.9,527.6 594.5,527.6 594.5,521.4 595.9,521.4" fill="#00c8ff"/>
<rect x="611.0" y="536.5" width="4.1" height="3.4" fill="#00c8ff"/>
<rect x="595.2" y="592.9" width="15.8" height="15.1" fill="#00c8ff"/>
<rect x="627.5" y="594.3" width="3.4" height="13.8" fill="#00c8ff"/>
<rect x="630.9" y="586.0" width="3.4" height="8.3" fill="#00c8ff"/>
<rect x="578.0" y="592.9" width="2.8" height="5.5" fill="#00c8ff"/>
<rect x="627.5" y="517.3" width="3.4" height="2.8" fill="#00c8ff"/>
<rect x="615.1" y="505.6" width="4.1" height="4.1" fill="#5a0096"/>
<rect x="617.2" y="509.0" width="6.2" height="4.1" fill="#5a0096"/>
<rect x="622.0" y="512.4" width="4.1" height="3.4" fill="#5a0096"/>
<rect x="624.1" y="515.9" width="2.8" height="9.6" fill="#5a0096"/>
<rect x="625.4" y="524.8" width="2.8" height="6.2" fill="#5a0096"/>
<rect x="626.8" y="530.3" width="6.2" height="6.2" fill="#5a0096"/>
<rect x="628.2" y="535.8" width="6.2" height="4.8" fill="#5a0096"/>
<rect x="633.0" y="539.3" width="4.1" height="6.9" fill="#5a0096"/>
<rect x="629.6" y="546.8" width="3.4" height="4.1" fill="#5a0096"/>
<rect x="632.3" y="546.1" width="7.6" height="9.6" fill="#5a0096"/>
<rect x="630.9" y="526.2" width="2.1" height="3.4" fill="#5a0096"/>
<rect x="632.3" y="530.7" width="3.4" height="1.7" fill="#5a0096"/>
<rect x="586.9" y="540.6" width="2.8" height="3.4" fill="#5a0096"/>
<rect x="589.0" y="543.4" width="3.4" height="3.4" fill="#5a0096"/>
<rect x="591.8" y="546.1" width="4.1" height="3.4" fill="#5a0096"/>
<rect x="593.8" y="548.9" width="6.2" height="4.1" fill="#5a0096"/>
<rect x="597.3" y="545.4" width="2.1" height="2.1" fill="#5a0096"/>
<rect x="599.3" y="552.3" width="6.2" height="4.1" fill="#5a0096"/>
<rect x="601.4" y="555.8" width="8.9" height="4.8" fill="#5a0096"/>
<rect x="610.3" y="552.3" width="2.1" height="3.4" fill="#5a0096"/>
<rect x="610.3" y="558.5" width="4.1" height="4.1" fill="#5a0096"/>
<rect x="614.4" y="553.7" width="2.5" height="4.8" fill="#5a0096"/>
<rect x="578.0" y="537.9" width="4.8" height="2.1" fill="#5a0096"/>
<rect x="602.1" y="574.3" width="3.4" height="2.8" fill="#5a0096"/>
<rect x="604.1" y="576.4" width="3.4" height="2.8" fill="#5a0096"/>
<rect x="607.6" y="499.1" width="3.4" height="1.7" fill="#5a0096"/>
<rect x="674.9" y="502.8" width="2.1" height="2.8" fill="#5a0096"/>
<rect x="650.2" y="550.9" width="2.1" height="3.2" fill="#5a0096"/>
</g>
<g clip-path="url(#pc)" fill="none" stroke="#000" stroke-width="1">
<path d="M153.0 166.3 L173.0 167.3 L193.0 168.1 L213.0 169.0 L233.0 169.7 L253.0 170.4 L273.0 171.0 L293.0 171.5 L313.0 172.0 L333.0 172.4 L353.0 172.7 L373.0 172.9 L393.0 173.1 L413.0 173.2 L433.0 173.2 L453.0 173.2 L473.0 173.0 L493.0 172.8 L513.0 172.6 L533.0 172.2 L553.0 171.8 L573.0 171.4 L572.0 171.4 M184.8 72.0 L180.4 166.6 M153.0 199.3 L173.0 200.3 L193.0 201.2 L213.0 202.0 L233.0 202.8 L253.0 203.4 L273.0 204.0 L286.7 204.4 L283.8 330.8 M569.3 72.0 L572.0 171.5 L573.4 203.0 L577.0 232.0 L584.2 285.0 L584.0 390.5 M573.4 203.3 L620.0 201.5 L684.5 199.0 M576.5 232.2 L584.0 233.4 M283.8 330.8 L290.0 331.4 L293.4 335.6 L295.5 340.4 L299.6 341.8 L302.4 344.5 L306.5 343.1 L308.6 342.4 L312.0 343.8 L314.8 345.2 L316.8 344.5 L317.5 340.4 L319.6 339.7 L322.3 341.8 L325.1 344.5 L328.5 347.3 L328.5 351.4 L329.2 354.8 L334.0 356.2 L338.1 355.5 L340.9 357.6 L345.0 359.6 L350.5 361.0 L356.0 361.0 L358.8 359.4 L361.5 360.3 L364.3 363.8 L367.0 365.8 L366.8 366.5 L369.5 362.4 L372.9 360.3 L377.8 361.7 L383.3 362.4 L386.7 361.0 L388.1 365.1 L389.4 369.3 L392.9 372.0 L393.6 376.1 L397.0 378.9 L400.4 379.6 L403.9 377.5 L408.0 374.8 L411.4 372.0 L414.2 373.4 L414.9 376.1 L419.0 375.4 L421.8 377.5 L423.1 381.6 L425.9 382.3 L428.6 379.6 L430.0 378.9 L432.6 378.0 L434.8 376.2 L436.6 378.0 L437.0 382.4 L437.4 386.7 L438.7 389.4 L441.4 388.5 L443.1 385.0 L442.7 381.5 L444.0 379.7 L445.7 380.6 L447.1 376.2 L447.5 373.6 M470.7 382.8 L473.7 383.2 L475.5 385.0 L478.1 385.4 L480.3 386.7 L482.1 388.9 L484.2 390.7 L485.1 387.6 L486.9 385.9 L489.5 386.3 L491.2 384.6 L493.0 383.7 L494.3 381.5 L496.5 380.6 L500.0 380.2 L504.7 378.2 L509.5 379.6 L513.6 378.9 L516.4 376.8 L521.2 375.4 L523.9 374.1 L526.0 376.1 L528.8 377.5 L532.9 378.9 L538.4 378.2 L541.8 376.1 L543.2 372.0 L545.3 372.0 L548.0 373.4 L552.1 375.4 L554.9 377.5 L558.3 378.9 L560.4 383.0 L564.5 385.8 L570.0 387.1 L575.5 389.2 L581.0 390.6 L582.1 391.3 L586.3 394.0 L580.1 391.0 L583.5 391.7 L586.9 393.8 L589.0 396.5 L593.1 397.2 L598.6 396.8 L602.8 395.8 L607.6 395.8 L608.9 432.3 L611.7 501.0 L611.0 498.0 L615.1 502.1 L619.3 505.6 L623.4 509.7 L625.4 513.1 L626.1 518.6 L625.4 524.1 L626.1 527.6 L629.6 530.3 L633.0 533.8 L634.4 537.9 L637.1 542.7 L639.2 546.8 L639.9 550.9 L641.9 552.3 L642.6 555.8 L644.0 559.2 L642.6 561.9 L641.3 564.0 L643.3 567.4 L642.6 572.3 L640.6 576.4 L638.5 580.5 L637.1 584.6 L635.1 588.8 L633.7 592.9 L634.4 597.0 L635.8 600.4 L635.1 604.6 M609.0 432.3 L684.5 429.5" stroke-linejoin="round"/>
<path d="M447.5 373.6 L451.0 373.2 L452.7 376.2 L453.6 379.3 L457.1 379.7 L459.7 382.4 L462.4 379.7 L464.1 376.2 L467.6 375.4 L470.2 377.1 L472.0 375.4 L471.1 371.9 L469.8 368.8 L468.5 370.1 L465.0 367.9 L467.6 367.5 L470.2 364.9 L472.9 365.7 L472.0 368.4 L471.1 371.9 M451.9 380.6 L456.2 381.5 L459.7 383.7 L463.2 381.9 L465.9 380.2 L468.5 381.5 L470.7 382.8 L470.2 377.1" stroke-width="2.2" stroke-linejoin="round" stroke-linecap="round"/>
<path d="M471.5 366 L473.5 369 L471.5 372 L473 376" stroke-width="2.2" stroke-linecap="round"/>
<path d="M422.5 287.4 L424.1 292.1 L429.1 292.2 L425.1 295.1 L426.6 299.9 L422.5 297.0 L418.4 299.9 L419.9 295.1 L415.9 292.2 L420.9 292.1Z" stroke-width="1.1"/>
<path d="M458.0 444.9 L459.6 449.6 L464.6 449.7 L460.6 452.6 L462.1 457.4 L458.0 454.5 L453.9 457.4 L455.4 452.6 L451.4 449.7 L456.4 449.6Z" stroke-width="1.1"/>

</g>
<g clip-path="url(#pc)" stroke="#000" stroke-width="0.55" fill="none">
<path d="M166.3 78.5L161.6 73.9M162.9 76.9L161.6 73.9L164.6 75.1M189.9 76.2L184.3 76.2M187.1 77.3L184.3 76.2L187.1 75.1M213.2 74.8L207.3 77.6M210.5 77.4L207.3 77.6L209.5 75.2M236.3 74.5L230.5 77.9M233.8 77.4L230.5 77.9L232.6 75.3M259.4 74.5L253.7 77.9M256.9 77.4L253.7 77.9L255.7 75.3M282.6 74.5L276.8 77.9M280.1 77.4L276.8 77.9L278.9 75.3M305.6 74.3L300.1 78.1M303.3 77.4L300.1 78.1L301.9 75.3M328.7 74.3L323.3 78.1M326.5 77.4L323.3 78.1L325.1 75.3M351.4 74.6L346.9 77.8M349.8 77.1L346.9 77.8L348.5 75.3M374.0 74.8L370.6 77.6M373.1 76.8L370.6 77.6L371.8 75.3M396.6 74.3L394.3 78.1M396.4 76.5L394.3 78.1L394.7 75.5M420.3 74.1L416.9 78.3M419.4 76.9L416.9 78.3L417.7 75.5M443.7 74.3L439.8 78.1M442.5 77.0L439.8 78.1L441.0 75.4M466.8 74.3L463.0 78.1M465.7 77.0L463.0 78.1L464.1 75.4M489.4 73.9L486.7 78.5M489.0 76.7L486.7 78.5L487.1 75.6M512.1 74.2L510.3 78.2M512.2 76.4L510.3 78.2L510.4 75.6M535.1 74.2L533.6 78.2M535.3 76.3L533.6 78.2L533.5 75.6M557.5 74.0L557.5 78.4M558.5 76.0L557.5 78.4L556.5 76.0M580.6 74.0L580.7 78.4M581.6 76.0L580.7 78.4L579.7 76.0M601.6 76.2L606.0 76.2M603.6 75.2L606.0 76.2L603.6 77.2M625.4 74.7L628.5 77.7M627.5 75.3L628.5 77.7L626.1 76.7M647.6 75.3L652.6 77.1M650.5 75.2L652.6 77.1L649.7 77.2M670.7 75.1L675.8 77.3M673.7 75.2L675.8 77.3L672.8 77.2M154.0 97.1L150.8 94.4M152.0 96.6L150.8 94.4L153.2 95.2M178.2 95.0L172.9 96.5M175.8 96.8L172.9 96.5L175.2 94.7M202.5 93.6L194.9 97.9M198.8 97.4L194.9 97.9L197.3 94.8M226.1 93.3L217.6 98.2M221.8 97.6L217.6 98.2L220.2 94.9M249.3 93.3L240.7 98.2M244.9 97.6L240.7 98.2L243.3 94.9M272.4 93.3L263.9 98.2M268.1 97.6L263.9 98.2L266.5 94.9M295.1 93.6L287.5 97.9M291.4 97.4L287.5 97.9L289.9 94.8M317.2 93.9L311.7 97.6M314.9 96.9L311.7 97.6L313.5 94.9M340.1 93.6L335.1 97.9M338.2 96.9L335.1 97.9L336.6 95.0M361.9 93.8L359.6 97.7M361.7 96.0L359.6 97.7L360.0 95.1M384.7 93.7L383.1 97.8M384.9 95.9L383.1 97.8L383.1 95.2M409.2 93.2L404.9 98.3M407.8 96.7L404.9 98.3L405.9 95.2M432.9 93.1L427.5 98.4M430.8 97.0L427.5 98.4L428.9 95.1M454.4 94.5L452.3 97.0M454.4 95.9L452.3 97.0L453.1 94.7M478.6 93.3L474.4 98.2M477.3 96.7L474.4 98.2L475.4 95.1M500.9 92.2L498.4 99.3M500.7 96.7L498.4 99.3L498.2 95.7M523.4 92.6L522.2 98.9M524.0 96.2L522.2 98.9L521.6 95.8M546.3 91.4L545.6 100.1M547.3 96.6L545.6 100.1L544.4 96.3M569.1 92.0L569.1 99.5M570.4 96.2L569.1 99.5L567.8 96.2M591.5 91.5L593.0 100.0M593.8 96.2L593.0 100.0L590.9 96.7M613.8 92.9L617.0 98.6M616.6 95.3L617.0 98.6L614.5 96.6M636.6 93.8L640.5 97.7M639.3 95.0L640.5 97.7L637.8 96.5M659.2 94.2L664.2 97.3M662.4 94.8L664.2 97.3L661.2 96.8M681.7 93.9L688.0 97.6M685.9 94.8L688.0 97.6L684.5 97.1M164.0 117.5L163.9 113.1M163.0 115.5L163.9 113.1L164.9 115.5M187.7 113.7L186.5 116.9M188.1 115.1L186.5 116.9L186.5 114.5M213.6 113.4L206.9 117.2M210.5 116.7L206.9 117.2L209.1 114.4M238.2 114.0L228.6 116.6M232.9 117.1L228.6 116.6L232.0 114.0M262.8 113.0L250.3 117.6M255.6 117.7L250.3 117.6L254.3 114.0M285.9 113.0L273.5 117.6M278.8 117.7L273.5 117.6L277.4 114.0M308.5 113.2L297.2 117.4M302.1 117.5L297.2 117.4L300.8 114.1M331.2 113.4L320.8 117.2M325.4 117.3L320.8 117.2L324.3 114.1M353.4 112.8L344.9 117.8M349.1 117.2L344.9 117.8L347.5 114.4M376.1 112.1L368.5 118.5M372.6 117.2L368.5 118.5L370.5 114.7M399.0 111.8L391.9 118.8M395.9 117.1L391.9 118.8L393.6 114.9M422.6 111.9L414.6 118.7M418.8 117.3L414.6 118.7L416.7 114.7M445.9 111.8L437.6 118.8M441.9 117.4L437.6 118.8L439.7 114.8M469.0 111.8L460.8 118.8M465.1 117.4L460.8 118.8L462.9 114.8M491.1 110.9L485.0 119.7M488.8 117.3L485.0 119.7L486.0 115.3M513.5 110.4L508.9 120.2M512.2 117.1L508.9 120.2L509.2 115.7M536.4 109.7L532.3 120.9M535.6 117.3L532.3 120.9L532.1 116.0M558.9 110.1L556.1 120.5M558.8 116.9L556.1 120.5L555.5 116.0M581.1 110.5L580.2 120.1M582.1 116.4L580.2 120.1L579.0 116.1M603.4 111.0L604.2 119.6M605.3 115.9L604.2 119.6L602.4 116.1M625.4 111.9L628.5 118.7M628.4 115.2L628.5 118.7L625.9 116.3M647.8 113.0L652.4 117.6M651.1 114.6L652.4 117.6L649.4 116.3M670.0 113.4L676.5 117.2M674.3 114.4L676.5 117.2L673.0 116.7M151.2 135.2L153.6 134.5M151.2 134.2L153.6 134.5L151.7 136.0M174.4 133.7L176.7 136.0M175.8 133.8L176.7 136.0L174.5 135.1M198.7 133.2L198.7 136.5M199.6 134.3L198.7 136.5L197.8 134.3M225.2 132.9L218.5 136.8M222.1 136.3L218.5 136.8L220.7 133.9M249.8 133.6L240.2 136.1M244.5 136.7L240.2 136.1L243.6 133.6M274.7 134.3L261.6 135.4M266.6 137.0L261.6 135.4L266.3 133.0M298.3 133.6L284.3 136.1M289.7 137.3L284.3 136.1L289.0 133.1M320.4 133.8L308.5 135.9M313.3 136.9L308.5 135.9L312.7 133.3M343.3 132.8L331.9 136.9M336.8 137.1L331.9 136.9L335.6 133.6M364.8 132.0L356.7 137.7M360.9 136.7L356.7 137.7L359.0 134.1M388.4 131.7L379.4 138.0M383.9 137.0L379.4 138.0L381.9 134.1M410.9 131.0L403.2 138.7M407.4 136.9L403.2 138.7L405.0 134.5M434.9 132.1L425.5 137.6M430.0 136.9L425.5 137.6L428.3 134.0M458.6 133.5L448.1 136.2M452.6 136.8L448.1 136.2L451.8 133.5M480.9 131.8L472.1 137.9M476.5 136.9L472.1 137.9L474.5 134.1M503.1 130.7L496.2 139.0M500.2 136.9L496.2 139.0L497.6 134.7M526.5 129.5L519.1 140.2M523.4 137.3L519.1 140.2L520.3 135.1M550.1 129.9L541.8 139.8M546.4 137.4L541.8 139.8L543.4 134.9M570.6 130.8L567.6 138.9M570.2 136.0L567.6 138.9L567.5 135.0M592.3 131.1L592.2 138.6M593.6 135.3L592.2 138.6L590.9 135.3M614.5 132.3L616.3 137.4M616.4 134.5L616.3 137.4L614.4 135.2M637.7 133.4L639.4 136.3M639.0 133.9L639.4 136.3L637.5 134.8M659.8 132.9L663.6 136.8M662.5 134.1L663.6 136.8L660.9 135.6M682.5 132.9L687.2 136.8M685.7 134.0L687.2 136.8L684.2 135.9M161.8 154.4L166.1 154.4M163.7 153.4L166.1 154.4L163.7 155.4M184.9 154.0L189.3 154.8M187.0 153.4L189.3 154.8L186.7 155.3M208.1 152.6L212.4 156.2M211.0 153.6L212.4 156.2L209.6 155.3M231.3 152.6L235.5 156.2M234.1 153.6L235.5 156.2L232.7 155.3M260.4 154.7L252.7 154.1M255.9 155.7L252.7 154.1L256.2 153.0M283.5 156.6L275.9 152.2M278.3 155.3L275.9 152.2L279.8 152.7M307.1 153.3L298.6 155.5M302.5 156.0L298.6 155.5L301.7 153.2M331.2 152.5L320.8 156.3M325.4 156.4L320.8 156.3L324.3 153.2M350.2 153.1L348.1 155.7M350.2 154.5L348.1 155.7L348.8 153.4M377.0 149.7L367.6 159.1M372.5 157.0L367.6 159.1L369.7 154.2M399.3 150.5L391.6 158.3M395.8 156.5L391.6 158.3L393.4 154.1M423.0 151.8L414.2 157.0M418.5 156.3L414.2 157.0L416.9 153.5M445.2 151.0L438.3 157.8M442.2 156.2L438.3 157.8L440.0 154.0M471.3 151.4L458.5 157.4M464.0 157.1L458.5 157.4L462.3 153.3M492.2 150.9L483.9 157.9M488.2 156.5L483.9 157.9L486.0 153.9M514.9 152.2L507.5 156.6M511.3 156.0L507.5 156.6L509.9 153.5M539.0 151.7L529.7 157.1M534.2 156.5L529.7 157.1L532.5 153.5M562.2 151.7L552.8 157.1M557.3 156.5L552.8 157.1L555.6 153.5M583.7 152.2L577.6 156.6M581.0 155.8L577.6 156.6L579.5 153.6M606.1 152.1L601.5 156.7M604.5 155.4L601.5 156.7L602.8 153.7M627.0 152.8L627.0 156.0M627.8 153.8L627.0 156.0L626.1 153.8M650.1 152.8L650.1 156.0M651.0 153.8L650.1 156.0L649.2 153.8M671.3 152.5L675.2 156.3M674.0 153.6L675.2 156.3L672.5 155.2M149.6 174.2L155.2 173.7M152.3 172.8L155.2 173.7L152.5 175.1M173.3 174.0L177.8 173.9M175.3 173.0L177.8 173.9L175.3 174.9M196.8 172.9L200.6 175.0M199.0 173.0L200.6 175.0L198.0 174.7M219.5 172.6L224.2 175.3M222.4 173.0L224.2 175.3L221.3 174.9M243.1 172.9L246.9 175.0M245.3 173.0L246.9 175.0L244.3 174.7M268.1 175.0L268.2 172.9M267.3 175.1L268.2 172.9L269.0 175.1M292.4 174.0L290.2 173.9M292.4 174.8L290.2 173.9L292.4 173.1M315.6 174.0L313.3 173.9M315.6 174.8L313.3 173.9L315.6 173.1M338.6 173.6L336.6 174.3M339.0 174.4L336.6 174.3L338.3 172.7M366.2 170.2L355.3 177.7M360.5 176.6L355.3 177.7L358.2 173.3M389.4 171.4L378.4 176.5M383.3 176.2L378.4 176.5L381.8 172.9M412.0 171.6L402.1 176.3M406.7 176.0L402.1 176.3L405.2 172.9M434.3 172.5L426.1 175.4M430.0 175.6L426.1 175.4L429.0 172.8M457.8 171.9L448.9 176.0M453.2 175.8L448.9 176.0L451.8 172.9M480.5 171.2L472.5 176.7M476.6 175.8L472.5 176.7L474.8 173.2M503.1 170.5L496.2 177.4M500.1 175.7L496.2 177.4L497.9 173.5M526.3 171.5L519.3 176.4M523.1 175.6L519.3 176.4L521.4 173.2M549.5 171.5L542.4 176.4M546.2 175.6L542.4 176.4L544.5 173.2M571.3 170.9L566.9 177.0M569.9 175.1L566.9 177.0L567.7 173.6M593.0 171.9L591.5 176.0M593.2 174.1L591.5 176.0L591.4 173.4M615.4 172.3L615.4 175.6M616.3 173.3L615.4 175.6L614.5 173.3M638.6 172.3L638.5 175.6M639.4 173.3L638.5 175.6L637.7 173.3M661.7 172.3L661.7 175.6M662.6 173.3L661.7 175.6L660.8 173.3M684.2 172.2L685.5 175.7M685.6 173.3L685.5 175.7L683.9 173.9M160.3 194.2L167.6 192.8M164.2 192.1L167.6 192.8L164.6 194.7M182.6 193.5L191.6 193.5M187.9 192.0L191.6 193.5L187.9 195.0M205.8 192.7L214.7 194.3M211.3 192.2L214.7 194.3L210.8 195.1M228.2 192.6L238.6 194.4M234.8 192.1L238.6 194.4L234.2 195.3M250.6 193.5L262.5 193.5M258.0 191.7L262.5 193.5L258.0 195.3M277.6 194.3L281.8 192.7M279.2 192.6L281.8 192.7L279.8 194.5M305.5 196.1L300.2 190.9M301.6 194.1L300.2 190.9L303.5 192.3M330.2 195.5L321.8 191.5M324.6 194.5L321.8 191.5L325.9 191.7M352.7 191.4L345.6 195.6M349.3 195.0L345.6 195.6L347.9 192.6M375.7 191.1L368.9 195.9M372.6 195.0L368.9 195.9L370.9 192.7M399.3 190.8L391.6 196.2M395.6 195.3L391.6 196.2L393.8 192.7M422.5 191.2L414.7 195.8M418.7 195.2L414.7 195.8L417.1 192.6M444.8 190.4L438.7 196.6M442.3 195.0L438.7 196.6L440.2 193.0M469.6 190.8L460.2 196.2M464.7 195.6L460.2 196.2L463.0 192.6M491.5 190.1L484.6 196.9M488.5 195.3L484.6 196.9L486.3 193.1M514.9 188.2L507.5 198.8M511.8 196.0L507.5 198.8L508.7 193.8M538.1 190.4L530.6 196.6M534.6 195.3L530.6 196.6L532.6 192.9M561.1 192.2L553.9 194.8M557.5 194.9L553.9 194.8L556.6 192.4M583.3 192.8L578.0 194.2M580.9 194.6L578.0 194.2L580.4 192.4M606.5 193.5L601.1 193.5M603.8 194.6L601.1 193.5L603.8 192.4M629.1 193.5L624.8 193.5M627.2 194.5L624.8 193.5L627.2 192.5M651.7 193.5L648.5 193.5M650.7 194.4L648.5 193.5L650.7 192.6M673.3 191.9L673.2 195.1M674.1 192.9L673.2 195.1L672.4 192.9M146.2 214.6L158.6 211.5M153.5 210.8L158.6 211.5L154.4 214.5M168.5 215.6L182.6 210.5M177.0 210.3L182.6 210.5L178.4 214.2M191.5 215.0L205.9 211.1M200.4 210.4L205.9 211.1L201.5 214.5M214.5 214.4L229.2 211.7M223.8 210.6L229.2 211.7L224.5 214.7M238.3 212.5L251.7 213.6M247.0 211.2L251.7 213.6L246.6 215.2M265.6 214.5L270.7 211.6M267.7 212.0L270.7 211.6L268.8 214.0M288.7 214.6L293.9 211.5M290.8 212.0L293.9 211.5L292.0 214.0M311.8 214.0L317.1 212.1M314.1 212.0L317.1 212.1L314.9 214.1M337.6 211.2L337.6 214.9M338.5 212.7L337.6 214.9L336.7 212.7M363.2 210.1L358.3 216.0M361.5 214.3L358.3 216.0L359.4 212.6M386.7 210.7L381.1 215.4M384.4 214.3L381.1 215.4L382.7 212.3M410.5 210.6L403.6 215.5M407.3 214.6L403.6 215.5L405.7 212.3M434.8 211.4L425.6 214.7M429.8 214.9L425.6 214.7L428.8 211.9M458.2 210.8L448.5 215.3M453.0 215.1L448.5 215.3L451.6 212.0M479.3 209.1L473.7 217.0M477.2 214.7L473.7 217.0L474.7 212.9M502.1 208.8L497.2 217.3M500.5 214.7L497.2 217.3L497.8 213.1M526.2 211.5L519.4 214.6M522.9 214.5L519.4 214.6L521.8 212.0M549.7 213.0L542.2 213.1M545.5 214.4L542.2 213.1L545.5 211.7M572.3 213.0L565.9 213.1M568.9 214.3L565.9 213.1L568.9 211.8M594.9 213.1L589.6 213.1M592.3 214.1L589.6 213.1L592.3 212.0M617.6 213.1L613.2 213.1M615.6 214.0L613.2 213.1L615.6 212.1M640.7 213.1L636.4 213.1M638.8 214.0L636.4 213.1L638.8 212.1M663.9 213.1L659.5 213.1M661.9 214.0L659.5 213.1L661.9 212.1M685.9 212.2L683.8 213.9M686.1 213.2L683.8 213.9L685.0 211.8M156.6 233.9L171.3 231.3M165.9 230.1L171.3 231.3L166.6 234.3M179.1 234.7L195.1 230.5M189.5 229.8L195.1 230.5L190.6 233.8M204.3 233.1L216.2 232.1M211.5 230.6L216.2 232.1L211.9 234.3M227.4 232.6L239.4 232.6M234.9 230.8L239.4 232.6L234.9 234.4M252.1 233.4L261.0 231.8M257.1 231.0L261.0 231.8L257.6 233.9M277.4 234.5L282.0 230.7M279.0 231.6L282.0 230.7L280.5 233.4M299.4 233.9L306.3 231.3M302.8 231.2L306.3 231.3L303.7 233.7M322.9 233.7L329.1 231.5M325.8 231.3L329.1 231.5L326.7 233.7M349.6 230.3L348.7 234.9M350.2 232.6L348.7 234.9L348.2 232.3M372.9 229.8L371.7 235.4M373.4 232.9L371.7 235.4L371.2 232.4M399.4 230.6L391.5 234.6M395.4 234.3L391.5 234.6L394.1 231.6M424.1 232.6L413.1 232.6M417.4 234.3L413.1 232.6L417.4 230.9M445.0 231.1L438.5 234.1M442.0 233.9L438.5 234.1L440.8 231.6M468.3 229.8L461.5 235.4M465.3 234.2L461.5 235.4L463.4 231.9M490.5 229.7L485.6 235.5M488.8 233.8L485.6 235.5L486.7 232.1M514.3 231.8L508.1 233.4M511.3 233.8L508.1 233.4L510.7 231.5M538.1 232.3L530.6 232.9M534.0 234.0L530.6 232.9L533.8 231.3M561.3 232.6L553.7 232.6M557.0 233.9L553.7 232.6L557.0 231.3M584.4 232.6L576.9 232.6M580.2 233.9L576.9 232.6L580.2 231.3M605.4 232.6L602.2 232.6M604.4 233.5L602.2 232.6L604.4 231.7M628.6 232.6L625.3 232.6M627.6 233.5L625.3 232.6L627.6 231.7M651.7 232.6L648.5 232.6M650.7 233.5L648.5 232.6L650.7 231.7M675.0 233.2L671.5 232.0M673.3 233.6L671.5 232.0L673.9 231.9M145.6 253.4L159.2 250.9M153.9 249.8L159.2 250.9L154.6 253.8M168.3 254.1L182.8 250.2M177.2 249.5L182.8 250.2L178.3 253.6M191.2 252.8L206.2 251.5M200.8 249.9L206.2 251.5L201.2 254.0M215.9 252.7L227.8 251.6M223.1 250.2L227.8 251.6L223.5 253.9M236.0 251.4L254.0 252.9M249.0 250.4L254.0 252.9L248.6 254.6M262.9 252.2L273.4 252.1M269.3 250.5L273.4 252.1L269.3 253.8M290.5 254.3L292.1 250.0M290.3 252.0L292.1 250.0L292.2 252.7M311.0 252.8L317.9 251.5M314.6 250.8L317.9 251.5L315.0 253.3M334.4 252.2L340.8 252.1M337.8 251.0L340.8 252.1L337.8 253.3M357.8 249.7L363.7 254.6M362.0 251.4L363.7 254.6L360.3 253.5M382.6 254.4L385.2 249.9M382.9 251.6L385.2 249.9L384.8 252.7M403.6 253.4L410.5 250.9M407.0 250.8L410.5 250.9L407.9 253.2M430.2 254.8L430.2 249.5M429.1 252.2L430.2 249.5L431.3 252.2M454.7 254.5L452.0 249.8M452.4 252.7L452.0 249.8L454.3 251.6M479.3 253.8L473.7 250.5M475.7 253.1L473.7 250.5L476.9 251.0M503.6 254.0L495.7 250.3M498.4 253.2L495.7 250.3L499.6 250.5M525.6 253.8L520.0 250.5M522.0 253.1L520.0 250.5L523.2 251.0M548.8 253.8L543.1 250.5M545.1 253.1L543.1 250.5L546.4 251.0M571.9 253.8L566.3 250.5M568.3 253.1L566.3 250.5L569.5 251.0M594.3 252.9L590.2 251.4M592.1 253.1L590.2 251.4L592.8 251.3M617.0 252.4L613.8 251.9M615.8 253.1L613.8 251.9L616.2 251.4M640.1 252.7L637.0 251.6M638.8 253.2L637.0 251.6L639.4 251.5M663.2 253.7L660.2 250.6M661.2 253.0L660.2 250.6L662.6 251.6M686.4 252.5L683.3 251.8M685.3 253.2L683.3 251.8L685.7 251.4M158.0 272.2L169.9 271.2M165.2 269.7L169.9 271.2L165.6 273.4M179.9 273.6L194.3 269.8M188.8 269.1L194.3 269.8L189.9 273.1M202.9 273.0L217.6 270.4M212.2 269.2L217.6 270.4L212.9 273.4M225.9 271.7L240.9 271.7M235.7 269.6L240.9 271.7L235.7 273.8M248.4 270.3L264.7 273.1M259.9 270.2L264.7 273.1L259.2 274.3M277.8 274.0L281.6 269.4M278.9 270.9L281.6 269.4L280.7 272.4M299.7 273.5L306.0 269.9M302.6 270.3L306.0 269.9L303.9 272.6M321.6 273.3L330.4 270.1M326.3 270.0L330.4 270.1L327.3 272.8M344.6 272.9L353.7 270.5M349.6 270.0L353.7 270.5L350.4 273.0M368.2 272.8L376.4 270.6M372.6 270.1L376.4 270.6L373.3 272.9M391.5 273.1L399.4 270.3M395.6 270.1L399.4 270.3L396.6 272.8M414.6 273.6L422.6 269.8M418.7 270.0L422.6 269.8L419.9 272.7M437.9 275.5L445.6 267.9M441.4 269.7L445.6 267.9L443.8 272.1M462.7 275.4L467.1 268.0M464.0 270.4L467.1 268.0L466.5 271.8M487.1 275.4L489.0 268.0M486.9 270.9L489.0 268.0L489.5 271.6M511.2 275.5L511.2 267.9M509.9 271.2L511.2 267.9L512.5 271.2M534.8 274.4L533.9 269.0M533.3 271.9L533.9 269.0L535.4 271.5M558.2 273.7L556.8 269.7M556.7 272.3L556.8 269.7L558.5 271.6M582.2 273.2L579.1 270.2M580.1 272.6L579.1 270.2L581.5 271.2M605.3 273.2L602.3 270.2M603.3 272.6L602.3 270.2L604.7 271.2M629.0 272.4L624.9 271.0M626.8 272.7L624.9 271.0L627.5 270.9M652.3 271.7L647.9 271.7M650.3 272.7L647.9 271.7L650.3 270.7M674.8 271.1L671.7 272.3M674.1 272.3L671.7 272.3L673.5 270.6M145.5 292.3L159.3 290.2M154.0 288.9L159.3 290.2L154.6 293.0M167.4 292.7L183.7 289.8M178.2 288.7L183.7 289.8L178.9 292.8M189.7 291.3L207.7 291.2M202.5 289.2L207.7 291.2L202.5 293.3M213.6 290.5L230.1 292.0M225.1 289.4L230.1 292.0L224.7 293.6M236.1 289.7L253.9 292.8M249.1 289.8L253.9 292.8L248.4 294.0M263.7 291.3L272.6 291.2M268.9 289.8L272.6 291.2L268.9 292.7M288.7 292.8L293.9 289.7M290.8 290.2L293.9 289.7L292.0 292.2M310.2 293.7L318.7 288.8M314.5 289.4L318.7 288.8L316.1 292.1M332.7 294.1L342.5 288.4M337.9 289.1L342.5 288.4L339.6 292.1M355.7 293.6L365.8 288.9M361.2 289.2L365.8 288.9L362.6 292.3M379.1 293.5L388.7 289.0M384.2 289.3L388.7 289.0L385.6 292.3M402.8 293.2L411.3 289.3M407.2 289.5L411.3 289.3L408.5 292.3M426.5 293.4L433.9 289.1M430.1 289.6L433.9 289.1L431.5 292.2M450.0 294.0L456.7 288.5M453.0 289.7L456.7 288.5L454.8 291.9M474.4 293.7L478.6 288.8M475.7 290.3L478.6 288.8L477.6 291.9M498.4 294.8L500.9 287.7M498.6 290.3L500.9 287.7L501.1 291.3M523.5 293.3L522.1 289.2M522.0 291.8L522.1 289.2L523.8 291.1M545.9 292.9L546.0 289.6M545.1 291.9L546.0 289.6L546.8 291.9M569.1 292.9L569.1 289.6M568.2 291.9L569.1 289.6L570.0 291.9M593.1 292.7L591.4 289.8M591.8 292.2L591.4 289.8L593.3 291.3M616.2 292.7L614.6 289.8M614.9 292.2L614.6 289.8L616.5 291.3M639.7 292.4L637.4 290.1M638.3 292.3L637.4 290.1L639.6 291.0M663.1 292.1L660.3 290.4M661.8 292.3L660.3 290.4L662.7 290.8M685.5 292.4L684.2 290.1M684.5 292.5L684.2 290.1L686.1 291.6M157.3 312.0L170.6 309.6M165.4 308.5L170.6 309.6L166.1 312.5M177.4 311.6L196.8 310.0M191.5 308.3L196.8 310.0L191.8 312.5M202.0 310.8L218.5 310.8M213.3 308.7L218.5 310.8L213.3 312.9M225.2 310.8L241.6 310.8M236.5 308.7L241.6 310.8L236.5 312.9M250.6 311.8L262.5 309.8M257.7 308.7L262.5 309.8L258.3 312.4M277.6 312.9L281.8 308.7M279.0 309.9L281.8 308.7L280.6 311.5M300.2 313.4L305.5 308.2M302.2 309.6L305.5 308.2L304.1 311.4M321.9 314.2L330.1 307.4M325.8 308.8L330.1 307.4L328.0 311.3M344.6 314.6L353.7 307.0M349.1 308.5L353.7 307.0L351.4 311.3M370.3 313.2L374.3 308.4M371.5 309.9L374.3 308.4L373.3 311.4M391.1 313.8L399.8 307.8M395.4 308.8L399.8 307.8L397.3 311.5M413.8 313.6L423.4 308.0M418.8 308.7L423.4 308.0L420.6 311.7M437.1 313.5L446.4 308.1M441.9 308.7L446.4 308.1L443.6 311.7M460.2 313.5L469.6 308.1M465.1 308.7L469.6 308.1L466.8 311.7M485.3 314.1L490.8 307.5M487.4 309.3L490.8 307.5L489.6 311.2M509.9 314.4L512.5 307.2M510.1 309.9L512.5 307.2L512.6 310.8M533.9 313.5L534.8 308.1M533.3 310.6L534.8 308.1L535.4 311.0M557.1 312.9L557.9 308.7M556.5 310.9L557.9 308.7L558.4 311.2M580.1 312.3L581.2 309.3M579.6 311.1L581.2 309.3L581.3 311.7M602.7 312.7L604.9 308.9M602.8 310.5L604.9 308.9L604.5 311.5M625.9 312.7L628.0 308.9M626.0 310.5L628.0 308.9L627.7 311.5M648.2 312.7L652.0 308.9M649.3 310.0L652.0 308.9L650.9 311.6M672.8 313.5L673.7 308.1M672.2 310.6L673.7 308.1L674.3 311.0M146.2 331.4L158.6 329.3M153.6 328.2L158.6 329.3L154.3 331.9M168.4 331.4L182.7 329.3M177.2 328.0L182.7 329.3L177.8 332.1M190.9 331.0L206.5 329.7M201.2 328.0L206.5 329.7L201.5 332.2M214.6 330.4L229.1 330.4M223.9 328.3L229.1 330.4L223.9 332.4M239.2 330.7L250.8 330.0M246.3 328.5L250.8 330.0L246.5 332.1M265.0 332.1L271.3 328.6M267.8 329.0L271.3 328.6L269.1 331.3M288.7 332.6L293.9 328.1M290.7 329.2L293.9 328.1L292.4 331.1M311.6 333.0L317.3 327.7M313.9 329.0L317.3 327.7L315.7 331.0M333.5 333.8L341.7 326.9M337.4 328.3L341.7 326.9L339.6 330.9M356.5 334.1L365.0 326.6M360.6 328.2L365.0 326.6L362.9 330.8M380.1 333.7L387.7 327.0M383.6 328.5L387.7 327.0L385.7 330.9M401.9 333.7L412.2 327.0M407.3 328.0L412.2 327.0L409.3 331.1M424.6 333.6L435.8 327.1M430.7 327.8L435.8 327.1L432.6 331.2M447.5 333.1L459.2 327.6M454.0 327.9L459.2 327.6L455.7 331.4M474.2 332.6L478.8 328.1M475.8 329.3L478.8 328.1L477.5 331.0M499.1 333.5L500.2 327.2M498.5 329.9L500.2 327.2L500.9 330.3M522.3 333.0L523.3 327.7M521.7 330.2L523.3 327.7L523.9 330.5M545.3 333.0L546.6 327.7M544.9 330.1L546.6 327.7L547.0 330.6M568.2 332.9L570.0 327.8M568.1 330.0L570.0 327.8L570.1 330.7M589.6 333.0L594.9 327.7M591.6 329.1L594.9 327.7L593.5 331.0M611.3 331.8L619.5 328.9M615.6 328.7L619.5 328.9L616.6 331.5M635.3 332.2L641.8 328.5M638.3 329.0L641.8 328.5L639.6 331.3M658.0 332.5L665.4 328.2M661.6 328.7L665.4 328.2L663.0 331.3M682.4 333.0L687.3 327.7M684.2 329.2L687.3 327.7L686.1 330.9M158.2 350.9L169.7 348.9M165.0 347.9L169.7 348.9L165.6 351.4M180.7 351.0L193.5 348.8M188.4 347.7L193.5 348.8L189.1 351.5M202.4 349.9L218.1 349.9M212.9 347.8L218.1 349.9L212.9 352.0M227.5 349.9L239.3 349.9M234.8 348.1L239.3 349.9L234.8 351.7M252.8 350.9L260.3 348.9M256.7 348.4L260.3 348.9L257.4 351.1M276.5 352.1L282.9 347.7M279.3 348.5L282.9 347.7L280.9 350.7M300.6 352.2L305.1 347.6M302.2 348.9L305.1 347.6L303.9 350.6M322.5 352.8L329.5 347.0M325.7 348.2L329.5 347.0L327.6 350.5M344.7 353.7L353.6 346.1M349.1 347.6L353.6 346.1L351.4 350.4M368.6 353.6L376.0 346.2M371.9 347.9L376.0 346.2L374.3 350.3M390.1 353.6L400.8 346.2M395.7 347.3L400.8 346.2L397.9 350.5M413.4 353.2L423.8 346.6M418.9 347.5L423.8 346.6L420.9 350.7M436.7 351.7L446.8 348.1M442.3 347.9L446.8 348.1L443.5 351.1M461.7 352.6L468.1 347.2M464.5 348.4L468.1 347.2L466.3 350.6M487.5 352.9L488.6 346.9M486.9 349.6L488.6 346.9L489.2 350.0M511.6 352.3L510.8 347.5M510.2 350.2L510.8 347.5L512.2 349.9M534.3 352.3L534.4 347.5M533.3 350.0L534.4 347.5L535.4 350.0M558.1 351.6L556.9 348.2M556.8 350.6L556.9 348.2L558.5 350.0M579.4 352.0L581.9 347.8M579.7 349.5L581.9 347.8L581.5 350.5M602.6 349.9L605.0 349.9M602.8 349.0L605.0 349.9L602.8 350.8M623.1 351.7L630.8 348.1M626.9 348.3L630.8 348.1L628.2 350.9M648.6 352.5L651.6 347.3M649.2 349.2L651.6 347.3L651.2 350.4M670.3 352.9L676.2 346.9M672.7 348.4L676.2 346.9L674.7 350.4M146.2 370.8L158.6 368.1M153.6 367.3L158.6 368.1L154.4 371.0M169.1 370.6L182.0 368.3M176.9 367.2L182.0 368.3L177.5 371.1M190.3 369.5L207.1 369.4M202.0 367.4L207.1 369.4L202.0 371.5M214.1 368.8L229.6 370.1M224.6 367.6L229.6 370.1L224.3 371.8M239.2 370.5L250.8 368.4M246.1 367.4L250.8 368.4L246.7 371.0M267.7 372.0L268.6 366.9M267.1 369.3L268.6 366.9L269.2 369.7M288.0 373.4L294.6 365.5M290.7 367.5L294.6 365.5L293.3 369.7M311.8 373.2L317.1 365.7M313.7 367.9L317.1 365.7L316.2 369.6M333.5 373.6L341.7 365.3M337.3 367.2L341.7 365.3L339.9 369.7M355.8 373.6L365.7 365.3M360.8 366.9L365.7 365.3L363.3 369.9M378.9 373.6L388.9 365.3M383.9 366.9L388.9 365.3L386.4 369.9M401.7 373.2L412.4 365.7M407.3 366.9L412.4 365.7L409.5 370.1M425.3 371.7L435.1 367.2M430.6 367.4L435.1 367.2L432.0 370.5M448.9 372.5L457.8 366.4M453.3 367.4L457.8 366.4L455.3 370.2M473.4 373.1L479.6 365.8M475.9 367.7L479.6 365.8L478.3 369.7M497.5 373.1L501.8 365.8M498.7 368.2L501.8 365.8L501.2 369.6M521.3 372.0L524.3 366.9M521.9 368.8L524.3 366.9L523.9 369.9M543.8 371.6L548.1 367.3M545.2 368.5L548.1 367.3L546.9 370.2M568.3 371.7L569.9 367.2M568.1 369.2L569.9 367.2L570.0 369.9M590.3 371.7L594.2 367.2M591.4 368.6L594.2 367.2L593.2 370.1M612.0 371.9L618.8 367.0M615.1 367.9L618.8 367.0L616.8 370.2M634.4 371.8L642.7 367.1M638.6 367.6L642.7 367.1L640.1 370.3M658.3 371.9L665.1 367.0M661.4 367.9L665.1 367.0L663.1 370.2M681.6 372.0L688.1 366.9M684.5 367.9L688.1 366.9L686.2 370.2M157.7 390.7L170.2 387.3M165.1 386.7L170.2 387.3L166.1 390.4M180.7 390.1L193.5 387.9M188.4 386.8L193.5 387.9L189.1 390.6M202.5 389.0L218.0 389.0M212.9 386.9L218.0 389.0L212.9 391.1M231.0 389.9L235.8 388.1M233.0 388.0L235.8 388.1L233.7 390.0M254.0 392.0L259.1 386.0M255.8 387.7L259.1 386.0L257.9 389.5M275.7 392.3L283.7 385.7M279.5 387.0L283.7 385.7L281.6 389.6M298.7 393.1L307.0 384.9M302.6 386.7L307.0 384.9L305.1 389.3M321.9 393.1L330.1 384.9M325.7 386.7L330.1 384.9L328.3 389.3M344.2 393.2L354.1 384.8M349.2 386.4L354.1 384.8L351.7 389.4M367.3 393.2L377.3 384.8M372.3 386.4L377.3 384.8L374.8 389.4M390.1 392.7L400.8 385.3M395.7 386.4L400.8 385.3L397.9 389.6M412.9 392.1L424.3 385.9M419.2 386.5L424.3 385.9L421.0 389.9M436.8 392.4L446.7 385.6M441.9 386.7L446.7 385.6L444.0 389.7M460.3 392.9L469.5 385.1M464.8 386.7L469.5 385.1L467.2 389.5M484.2 392.8L491.9 385.2M487.7 387.0L491.9 385.2L490.1 389.4M508.4 392.9L514.0 385.1M510.4 387.3L514.0 385.1L513.0 389.1M530.5 392.8L538.2 385.2M534.0 387.0L538.2 385.2L536.4 389.4M554.5 392.0L560.5 386.0M557.0 387.5L560.5 386.0L559.0 389.5M577.9 391.3L583.4 386.7M580.1 387.8L583.4 386.7L581.8 389.7M600.2 391.1L607.4 386.9M603.7 387.4L607.4 386.9L605.1 389.9M622.8 391.4L631.1 386.6M627.0 387.2L631.1 386.6L628.5 389.9M645.9 391.4L654.3 386.6M650.1 387.2L654.3 386.6L651.7 389.9M669.8 391.4L676.7 386.6M673.0 387.5L676.7 386.6L674.6 389.8M146.5 410.1L158.3 407.0M153.4 406.4L158.3 407.0L154.4 410.0M168.5 409.8L182.6 407.3M177.1 406.1L182.6 407.3L177.9 410.3M191.6 409.2L205.8 407.9M200.5 406.3L205.8 407.9L200.8 410.5M217.9 410.8L225.8 406.3M221.8 406.8L225.8 406.3L223.3 409.5M242.1 412.0L247.9 405.1M244.4 407.0L247.9 405.1L246.7 408.9M262.8 412.3L273.5 404.8M268.4 406.0L273.5 404.8L270.6 409.2M286.3 412.7L296.3 404.4M291.3 406.0L296.3 404.4L293.8 409.0M310.3 413.5L318.6 403.6M314.0 406.0L318.6 403.6L317.0 408.5M332.6 412.7L342.6 404.4M337.6 406.0L342.6 404.4L340.1 409.0M355.4 412.3L366.1 404.8M361.0 406.0L366.1 404.8L363.2 409.2M378.3 411.8L389.5 405.3M384.4 406.0L389.5 405.3L386.3 409.4M401.4 411.8L412.7 405.3M407.5 406.0L412.7 405.3L409.5 409.4M424.0 410.8L436.4 406.3M431.1 406.1L436.4 406.3L432.5 409.8M448.8 412.4L457.9 404.7M453.3 406.2L457.9 404.7L455.6 409.0M472.3 412.8L480.7 404.3M476.2 406.2L480.7 404.3L478.8 408.8M495.8 413.1L503.5 404.0M499.2 406.3L503.5 404.0L502.0 408.6M519.3 412.7L526.3 404.4M522.3 406.5L526.3 404.4L524.9 408.7M542.9 412.2L549.0 404.9M545.3 406.8L549.0 404.9L547.7 408.8M566.1 411.5L572.1 405.6M568.6 407.1L572.1 405.6L570.6 409.1M589.6 411.8L594.9 405.3M591.6 407.1L594.9 405.3L593.8 409.0M612.2 411.2L618.6 405.9M615.0 407.0L618.6 405.9L616.8 409.2M634.6 411.3L642.5 405.8M638.4 406.7L642.5 405.8L640.2 409.3M657.8 411.3L665.6 405.8M661.6 406.7L665.6 405.8L663.4 409.3M680.8 411.2L688.9 405.9M684.8 406.7L688.9 405.9L686.5 409.4M159.1 429.9L168.8 426.3M164.4 426.2L168.8 426.3L165.6 429.3M181.8 430.6L192.4 425.6M187.6 425.9L192.4 425.6L189.1 429.1M206.6 431.8L213.9 424.4M209.9 426.1L213.9 424.4L212.2 428.5M227.3 430.3L239.5 425.9M234.3 425.7L239.5 425.9L235.6 429.4M252.1 431.9L261.0 424.3M256.5 425.8L261.0 424.3L258.8 428.6M273.5 431.7L285.9 424.5M280.4 425.3L285.9 424.5L282.5 428.9M298.4 431.9L307.3 424.3M302.8 425.8L307.3 424.3L305.1 428.6M319.8 431.7L332.2 424.5M326.7 425.3L332.2 424.5L328.8 428.9M343.0 431.7L355.3 424.5M349.8 425.3L355.3 424.5L351.9 428.9M366.7 431.3L377.9 424.9M372.8 425.6L377.9 424.9L374.7 428.9M389.8 431.3L401.1 424.9M395.9 425.6L401.1 424.9L397.9 428.9M413.0 431.3L424.2 424.9M419.1 425.6L424.2 424.9L421.0 429.0M437.2 432.0L446.3 424.2M441.7 425.8L446.3 424.2L444.0 428.6M460.8 431.6L469.0 424.6M464.7 426.0L469.0 424.6L466.9 428.6M483.5 432.0L492.6 424.2M488.0 425.8L492.6 424.2L490.3 428.6M506.6 432.0L515.8 424.2M511.1 425.8L515.8 424.2L513.5 428.6M529.3 432.3L539.4 423.9M534.4 425.5L539.4 423.9L536.9 428.5M552.6 431.5L562.4 424.7M557.6 425.8L562.4 424.7L559.7 428.8M576.5 431.6L584.8 424.6M580.5 426.0L584.8 424.6L582.7 428.6M600.4 431.5L607.2 424.7M603.3 426.3L607.2 424.7L605.6 428.6M623.6 431.5L630.3 424.7M626.5 426.3L630.3 424.7L628.7 428.6M646.2 430.9L654.0 425.3M650.0 426.3L654.0 425.3L651.8 428.9M668.6 430.8L677.9 425.4M673.4 426.0L677.9 425.4L675.1 429.0M147.7 450.4L157.1 444.9M152.6 445.6L157.1 444.9L154.3 448.5M169.4 449.9L181.7 445.4M176.5 445.2L181.7 445.4L177.8 448.9M193.2 452.2L204.2 443.1M198.9 444.8L204.2 443.1L201.6 448.0M216.0 451.8L227.7 443.5M222.3 444.8L227.7 443.5L224.7 448.2M239.0 452.7L251.0 442.6M245.6 444.4L251.0 442.6L248.3 447.6M261.8 452.1L274.5 443.2M269.1 444.4L274.5 443.2L271.5 447.9M286.0 451.4L296.6 443.9M291.6 445.1L296.6 443.9L293.8 448.3M305.3 451.0L323.6 444.3M318.0 444.1L323.6 444.3L319.4 448.1M332.3 451.4L342.9 443.9M337.9 445.1L342.9 443.9L340.1 448.3M355.1 450.9L366.4 444.4M361.2 445.1L366.4 444.4L363.2 448.5M380.2 450.3L387.6 445.0M383.7 445.9L387.6 445.0L385.4 448.4M399.4 451.2L414.7 444.1M409.1 444.4L414.7 444.1L410.9 448.2M427.0 450.3L433.4 445.0M429.8 446.1L433.4 445.0L431.6 448.3M449.7 450.7L457.0 444.6M453.1 445.9L457.0 444.6L455.1 448.3M472.7 451.5L480.3 443.8M476.1 445.6L480.3 443.8L478.5 448.0M495.5 450.1L503.8 445.2M499.7 445.8L503.8 445.2L501.2 448.5M517.6 450.7L528.0 444.6M523.1 445.3L528.0 444.6L525.0 448.5M541.4 451.5L550.5 443.8M545.9 445.3L550.5 443.8L548.2 448.1M564.5 451.5L573.7 443.8M569.0 445.3L573.7 443.8L571.4 448.1M588.4 451.5L596.1 443.8M591.9 445.6L596.1 443.8L594.3 448.0M611.9 451.8L618.9 443.5M614.9 445.6L618.9 443.5L617.5 447.8M634.7 451.5L642.4 443.8M638.2 445.6L642.4 443.8L640.6 448.0M657.6 451.1L665.8 444.2M661.5 445.6L665.8 444.2L663.7 448.2M680.9 450.9L688.8 444.4M684.6 445.7L688.8 444.4L686.7 448.2M160.3 470.9L167.6 463.5M163.6 465.2L167.6 463.5L165.9 467.6M182.1 471.4L192.1 463.0M187.1 464.6L192.1 463.0L189.6 467.6M203.8 472.6L216.7 461.8M211.4 463.5L216.7 461.8L214.1 466.7M228.6 470.6L238.2 463.8M233.5 464.9L238.2 463.8L235.6 467.9M250.2 471.7L262.9 462.7M257.5 464.0L262.9 462.7L259.9 467.4M272.4 471.4L287.0 463.0M281.5 463.8L287.0 463.0L283.6 467.4M295.9 469.1L309.8 465.3M304.2 464.7L309.8 465.3L305.3 468.7M320.7 470.9L331.3 463.5M326.3 464.6L331.3 463.5L328.5 467.8M343.0 470.8L355.3 463.6M349.8 464.4L355.3 463.6L351.9 468.0M367.2 470.1L377.4 464.3M372.6 464.9L377.4 464.3L374.4 468.1M388.7 469.6L402.2 464.8M396.6 464.6L402.2 464.8L398.0 468.5M411.9 469.2L425.3 465.2M419.8 464.7L425.3 465.2L421.0 468.6M436.8 470.6L446.7 463.8M441.9 464.9L446.7 463.8L444.0 467.9M459.7 470.2L470.1 464.2M465.2 464.9L470.1 464.2L467.1 468.1M483.1 470.6L493.0 463.8M488.2 464.9L493.0 463.8L490.3 467.9M505.8 471.0L516.6 463.4M511.5 464.6L516.6 463.4L513.7 467.8M529.3 471.4L539.4 463.0M534.4 464.6L539.4 463.0L536.9 467.6M552.9 471.1L562.1 463.3M557.4 464.9L562.1 463.3L559.8 467.7M576.8 471.0L584.5 463.4M580.3 465.2L584.5 463.4L582.7 467.6M600.7 470.9L606.9 463.5M603.2 465.5L606.9 463.5L605.6 467.5M623.9 470.9L630.0 463.5M626.3 465.5L630.0 463.5L628.7 467.5M647.0 470.9L653.2 463.5M649.5 465.5L653.2 463.5L651.9 467.5M669.9 470.6L676.6 463.8M672.8 465.4L676.6 463.8L675.0 467.7M148.1 491.7L156.7 481.8M152.0 484.2L156.7 481.8L155.0 486.7M170.5 492.7L180.6 480.8M175.6 483.4L180.6 480.8L178.8 486.1M194.2 493.1L203.2 480.4M198.5 483.4L203.2 480.4L201.9 485.8M216.4 491.3L227.3 482.2M222.0 483.9L227.3 482.2L224.7 487.1M239.7 490.5L250.3 483.0M245.3 484.2L250.3 483.0L247.5 487.4M261.4 490.6L274.9 482.9M269.4 483.6L274.9 482.9L271.5 487.3M285.8 488.8L296.8 484.7M292.0 484.6L296.8 484.7L293.2 488.0M309.4 489.7L319.5 483.8M314.8 484.5L319.5 483.8L316.6 487.6M328.8 490.9L346.4 482.6M340.8 482.9L346.4 482.6L342.6 486.7M356.0 490.1L365.5 483.4M360.9 484.5L365.5 483.4L362.9 487.4M376.6 489.4L391.2 484.1M385.6 483.9L391.2 484.1L387.1 487.8M399.5 488.8L414.6 484.7M409.0 484.0L414.6 484.7L410.1 488.1M424.4 488.3L436.0 485.2M431.1 484.6L436.0 485.2L432.1 488.1M447.6 488.3L459.1 485.2M454.3 484.6L459.1 485.2L455.2 488.1M470.9 488.8L482.1 484.7M477.2 484.5L482.1 484.7L478.5 488.0M496.3 490.1L503.0 483.4M499.2 485.0L503.0 483.4L501.4 487.2M517.7 491.8L527.9 481.7M522.7 483.8L527.9 481.7L525.7 486.8M541.8 490.2L550.1 483.3M545.8 484.7L550.1 483.3L548.0 487.3M565.3 490.6L572.9 482.9M568.7 484.7L572.9 482.9L571.1 487.1M588.1 490.2L596.4 483.3M592.1 484.7L596.4 483.3L594.3 487.3M612.4 489.7L618.4 483.8M614.9 485.3L618.4 483.8L616.9 487.3M635.1 490.9L642.0 482.6M638.0 484.7L642.0 482.6L640.6 486.9M658.3 490.1L665.1 483.4M661.2 485.0L665.1 483.4L663.5 487.2M681.4 490.5L688.3 483.0M684.4 484.9L688.3 483.0L686.7 487.1M159.8 511.3L168.1 501.3M163.5 503.8L168.1 501.3L166.5 506.3M182.6 512.7L191.6 499.9M186.9 503.0L191.6 499.9L190.3 505.4M202.8 511.5L217.7 501.1M212.2 502.3L217.7 501.1L214.7 505.8M225.9 512.6L240.9 500.0M235.5 501.8L240.9 500.0L238.2 505.0M250.8 507.3L262.3 505.3M257.6 504.3L262.3 505.3L258.2 507.8M273.6 508.5L285.8 504.1M280.6 503.9L285.8 504.1L281.9 507.6M295.5 509.0L310.2 503.6M304.6 503.4L310.2 503.6L306.0 507.4M320.1 509.0L331.9 503.6M326.7 503.8L331.9 503.6L328.3 507.4M340.6 509.4L357.7 503.2M352.1 503.0L357.7 503.2L353.5 506.9M366.0 508.0L378.6 504.6M373.4 504.0L378.6 504.6L374.4 507.7M389.0 507.4L401.9 505.2M396.8 504.1L401.9 505.2L397.4 507.9M411.6 506.6L425.6 506.0M420.4 504.1L425.6 506.0L420.6 508.3M436.0 507.9L447.5 504.7M442.7 504.1L447.5 504.7L443.6 507.7M459.1 507.9L470.7 504.7M465.8 504.1L470.7 504.7L466.8 507.7M482.4 508.4L493.7 504.2M488.8 504.1L493.7 504.2L490.0 507.5M508.1 510.0L514.3 502.6M510.6 504.6L514.3 502.6L513.0 506.6M530.2 509.8L538.5 502.8M534.2 504.2L538.5 502.8L536.4 506.8M553.4 509.8L561.6 502.8M557.3 504.2L561.6 502.8L559.5 506.8M576.5 509.8L584.8 502.8M580.5 504.2L584.8 502.8L582.7 506.8M599.6 510.5L608.0 502.1M603.5 504.0L608.0 502.1L606.1 506.6M623.1 510.1L630.8 502.5M626.6 504.3L630.8 502.5L629.0 506.7M645.9 510.5L654.3 502.1M649.8 504.0L654.3 502.1L652.4 506.6M669.8 510.4L676.7 502.2M672.7 504.3L676.7 502.2L675.3 506.5M151.1 528.6L153.7 523.1M151.4 525.2L153.7 523.1L153.5 526.2M172.6 530.1L178.5 521.6M174.8 524.0L178.5 521.6L177.5 525.9M195.0 529.5L202.4 522.2M198.3 523.9L202.4 522.2L200.6 526.2M217.1 528.0L226.6 523.7M222.1 523.9L226.6 523.7L223.5 526.9M240.7 524.3L249.3 527.4M246.3 524.7L249.3 527.4L245.2 527.5M263.4 528.0L272.9 523.7M268.4 523.9L272.9 523.7L269.8 526.9M286.3 527.2L296.3 524.5M291.9 524.0L296.3 524.5L292.8 527.2M308.7 526.9L320.2 524.8M315.5 523.8L320.2 524.8L316.1 527.4M331.2 527.0L344.0 524.7M338.9 523.6L344.0 524.7L339.6 527.5M353.6 526.5L367.9 525.2M362.5 523.6L367.9 525.2L362.9 527.8M374.8 525.8L393.0 525.9M387.8 523.8L393.0 525.9L387.8 527.9M398.6 525.9L415.5 525.9M410.3 523.8L415.5 525.9L410.3 527.9M424.2 525.9L436.2 525.8M431.7 524.0L436.2 525.8L431.7 527.7M448.7 528.6L458.0 523.1M453.5 523.8L458.0 523.1L455.2 526.7M472.4 529.3L480.6 522.4M476.3 523.8L480.6 522.4L478.5 526.4M495.4 530.1L503.9 521.6M499.4 523.5L503.9 521.6L502.0 526.1M518.2 529.7L527.4 522.0M522.7 523.5L527.4 522.0L525.1 526.3M541.4 529.7L550.5 522.0M545.9 523.5L550.5 522.0L548.2 526.3M565.0 529.3L573.2 522.4M568.9 523.8L573.2 522.4L571.1 526.4M587.7 529.7L596.8 522.0M592.2 523.5L596.8 522.0L594.5 526.3M611.6 529.7L619.2 522.0M615.0 523.8L619.2 522.0L617.4 526.2M634.3 530.1L642.8 521.6M638.3 523.5L642.8 521.6L640.9 526.1M657.5 530.1L665.9 521.6M661.4 523.5L665.9 521.6L664.0 526.1M681.0 529.9L688.7 521.8M684.5 523.7L688.7 521.8L687.0 526.1M165.9 545.4L162.0 545.4M164.3 546.3L162.0 545.4L164.3 544.5M184.7 546.3L189.5 544.5M186.7 544.4L189.5 544.5L187.4 546.4M208.9 546.8L211.6 544.0M209.4 545.0L211.6 544.0L210.7 546.3M229.9 547.0L236.9 543.8M233.3 543.9L236.9 543.8L234.5 546.4M253.5 546.5L259.6 544.3M256.4 544.2L259.6 544.3L257.2 546.5M275.3 546.6L284.1 544.2M280.1 543.7L284.1 544.2L280.9 546.6M297.6 545.4L308.1 545.4M304.0 543.7L308.1 545.4L304.0 547.1M319.5 545.4L332.5 545.4M327.7 543.5L332.5 545.4L327.7 547.3M343.3 545.4L355.0 545.4M350.5 543.6L355.0 545.4L350.5 547.2M366.5 544.9L378.1 545.9M373.8 543.7L378.1 545.9L373.5 547.3M387.0 545.4L403.9 545.4M398.7 543.3L403.9 545.4L398.7 547.5M413.2 546.9L424.0 543.9M419.4 543.4L424.0 543.9L420.3 546.7M437.6 548.9L445.9 541.9M441.6 543.3L445.9 541.9L443.8 545.9M460.5 548.5L469.3 542.3M464.9 543.3L469.3 542.3L466.9 546.1M483.6 548.5L492.5 542.3M488.0 543.3L492.5 542.3L490.0 546.1M507.1 548.9L515.3 541.9M511.0 543.3L515.3 541.9L513.2 545.9M530.2 548.9L538.5 541.9M534.2 543.3L538.5 541.9L536.4 545.9M553.1 548.5L561.9 542.3M557.5 543.3L561.9 542.3L559.5 546.1M576.8 549.2L584.5 541.6M580.3 543.4L584.5 541.6L582.7 545.8M600.1 548.5L607.5 542.3M603.5 543.6L607.5 542.3L605.5 546.0M623.6 548.8L630.3 542.0M626.5 543.6L630.3 542.0L628.7 545.9M646.6 549.5L653.6 541.3M649.6 543.4L653.6 541.3L652.2 545.6M669.4 549.2L677.1 541.6M672.9 543.4L677.1 541.6L675.3 545.8M151.9 565.5L152.9 564.4M150.8 565.5L152.9 564.4L152.1 566.7M173.9 564.0L177.2 565.9M175.7 564.0L177.2 565.9L174.8 565.6M197.0 564.0L200.4 565.9M198.9 564.0L200.4 565.9L197.9 565.6M219.4 564.1L224.3 565.8M222.2 563.9L224.3 565.8L221.4 565.9M240.6 563.8L249.4 566.1M246.2 563.7L249.4 566.1L245.4 566.6M263.1 563.6L273.2 566.3M269.6 563.6L273.2 566.3L268.8 566.8M285.8 562.9L296.8 567.0M293.2 563.7L296.8 567.0L292.0 567.1M308.3 562.7L320.6 567.2M316.7 563.7L320.6 567.2L315.4 567.4M332.4 564.5L342.8 565.4M338.8 563.4L342.8 565.4L338.6 566.7M358.3 564.1L363.2 565.8M361.1 563.9L363.2 565.8L360.3 565.9M379.4 565.7L388.4 564.2M384.4 563.3L388.4 564.2L385.0 566.3M402.8 566.5L411.3 563.4M407.3 563.3L411.3 563.4L408.3 566.1M426.3 567.7L434.1 562.2M430.1 563.1L434.1 562.2L431.9 565.7M449.2 568.4L457.5 561.5M453.2 562.9L457.5 561.5L455.4 565.5M472.6 569.5L480.4 560.4M476.0 562.7L480.4 560.4L478.8 565.0M495.2 568.0L504.1 561.9M499.6 562.9L504.1 561.9L501.6 565.7M518.4 568.0L527.2 561.9M522.8 562.9L527.2 561.9L524.8 565.7M542.5 567.4L549.4 562.5M545.7 563.4L549.4 562.5L547.3 565.7M565.5 567.0L572.7 562.9M569.0 563.4L572.7 562.9L570.4 565.9M588.1 567.3L596.4 562.6M592.3 563.1L596.4 562.6L593.8 565.8M611.5 567.7L619.3 562.2M615.3 563.1L619.3 562.2L617.1 565.7M635.1 567.4L642.0 562.5M638.3 563.4L642.0 562.5L639.9 565.7M658.3 567.4L665.1 562.5M661.4 563.4L665.1 562.5L663.1 565.7M681.3 567.3L688.4 562.6M684.6 563.4L688.4 562.6L686.2 565.8M162.6 586.8L165.3 582.2M163.0 584.0L165.3 582.2L164.9 585.1M185.7 583.1L188.5 585.9M187.5 583.6L188.5 585.9L186.2 584.9M209.3 582.8L211.2 586.2M210.9 583.7L211.2 586.2L209.3 584.7M231.9 583.2L234.9 585.8M233.7 583.6L234.9 585.8L232.5 585.0M253.7 582.9L259.4 586.1M257.4 583.6L259.4 586.1L256.1 585.7M275.2 581.9L284.2 587.1M281.5 583.6L284.2 587.1L279.8 586.5M299.7 582.3L306.0 586.7M304.1 583.7L306.0 586.7L302.5 585.9M322.8 585.1L329.2 583.9M326.0 583.3L329.2 583.9L326.4 585.7M345.9 585.1L352.4 583.9M349.2 583.3L352.4 583.9L349.6 585.7M368.6 585.8L376.0 583.2M372.3 583.0L376.0 583.2L373.3 585.6M390.6 586.3L400.3 582.7M395.9 582.6L400.3 582.7L397.1 585.7M414.7 586.1L422.5 582.9M418.7 582.9L422.5 582.9L419.8 585.6M438.1 587.6L445.4 581.4M441.5 582.7L445.4 581.4L443.5 585.1M461.2 587.6L468.6 581.4M464.6 582.7L468.6 581.4L466.6 585.1M484.1 587.3L492.0 581.7M487.9 582.7L492.0 581.7L489.7 585.3M508.1 588.2L514.3 580.8M510.6 582.8L514.3 580.8L513.0 584.8M531.2 586.3L537.5 582.7M534.0 583.2L537.5 582.7L535.3 585.4M554.7 585.5L560.3 583.5M557.2 583.4L560.3 583.5L558.0 585.5M577.8 585.5L583.5 583.5M580.4 583.4L583.5 583.5L581.2 585.5M600.9 585.3L606.7 583.7M603.6 583.3L606.7 583.7L604.2 585.6M624.1 585.5L629.8 583.5M626.7 583.4L629.8 583.5L627.5 585.5M646.6 585.4L653.6 583.6M650.1 583.1L653.6 583.6L650.8 585.7M669.9 585.7L676.6 583.3M673.2 583.1L676.6 583.3L674.1 585.6M150.9 604.6L153.9 603.5M151.5 603.4L153.9 603.5L152.1 605.1M173.9 603.1L177.2 605.0M175.7 603.1L177.2 605.0L174.8 604.7M197.0 603.1L200.4 605.0M198.9 603.1L200.4 605.0L197.9 604.7M220.2 603.1L223.5 605.0M222.0 603.1L223.5 605.0L221.1 604.7M242.7 602.8L247.3 605.3M245.5 603.1L247.3 605.3L244.4 605.0M265.3 602.4L271.0 605.7M269.0 603.1L271.0 605.7L267.7 605.2M288.2 602.9L294.4 605.2M291.9 603.0L294.4 605.2L291.1 605.3M311.2 603.5L317.7 604.6M314.9 602.9L317.7 604.6L314.5 605.3M334.4 604.6L340.8 603.5M337.6 602.8L340.8 603.5L338.0 605.2M357.6 604.9L363.9 603.2M360.7 602.8L363.9 603.2L361.3 605.2M380.2 605.4L387.6 602.7M383.9 602.6L387.6 602.7L384.9 605.2M403.4 605.4L410.7 602.7M407.1 602.6L410.7 602.7L408.0 605.2M427.1 605.9L433.3 602.2M429.9 602.7L433.3 602.2L431.2 605.0M450.2 605.9L456.5 602.2M453.0 602.7L456.5 602.2L454.3 605.0M473.4 605.8L479.6 602.3M476.2 602.7L479.6 602.3L477.5 605.0M497.1 605.6L502.2 602.5M499.2 603.0L502.2 602.5L500.3 605.0M520.1 605.3L525.5 602.8M522.4 602.9L525.5 602.8L523.4 605.0M543.1 605.1L548.8 603.0M545.7 602.9L548.8 603.0L546.5 605.1M566.3 605.1L571.9 603.0M568.8 602.9L571.9 603.0L569.6 605.1M589.4 605.1L595.1 603.0M592.0 602.9L595.1 603.0L592.8 605.1M612.6 605.1L618.2 603.0M615.1 602.9L618.2 603.0L615.9 605.1M635.7 605.1L641.4 603.0M638.3 602.9L641.4 603.0L639.1 605.1M658.9 605.1L664.5 603.0M661.4 602.9L664.5 603.0L662.2 605.1M681.7 605.2L688.0 602.9M684.7 602.8L688.0 602.9L685.5 605.1"/>

</g>
<rect x="153.5" y="72.0" width="531.0" height="531.5" fill="none" stroke="#000" stroke-width="1.25"/>
<path d="M163.3 603.5V589 M277 603.5V589 M390.7 603.5V589 M504.4 603.5V589 M618.1 603.5V589 M187 72V86.5 M290.4 72V86.5 M393.3 72V86.5 M496.7 72V86.5 M600.4 72V86.5 M153.5 100.6H167.5 M684.5 100.6H670.8 M153.5 232.5H167.5 M684.5 232.5H670.8 M153.5 364.3H167.5 M684.5 364.3H670.8 M153.5 496.2H167.5 M684.5 496.2H670.8" stroke="#000" stroke-width="1" fill="none"/>

<text x="310" y="26" font-size="13" font-weight="bold" textLength="216" lengthAdjust="spacingAndGlyphs">2023/1/17/15UTC (9LT), Tuesday</text>
<text x="310" y="41.8" font-size="13" font-weight="bold" textLength="136" lengthAdjust="spacingAndGlyphs">FV3m0b0l0_GFS025</text>
<text x="153.8" y="63.8" font-size="24.5" textLength="340.7" lengthAdjust="spacingAndGlyphs">volumetric soil moisture 0-10cm</text>
<text x="607" y="63.8" font-size="24.5" textLength="78.6" lengthAdjust="spacingAndGlyphs">fraction</text>
<rect x="658.8" y="72.5" width="29" height="38.8" fill="#fff" stroke="#333" stroke-width="0.7"/>
<text x="672.6" y="86.2" font-size="12.8" text-anchor="middle">8</text>
<path d="M661.8 97.5H683.8M678.5 95.3L683.8 97.5L678.5 99.7" stroke="#000" stroke-width="0.7" fill="none"/>
<text x="145" y="237.6" font-size="14.5" text-anchor="end">36°N</text>
<text x="145" y="501.6" font-size="14.5" text-anchor="end">32°N</text>
<text x="163.2" y="623.5" font-size="14.5" text-anchor="middle">102°W</text>
<text x="390.7" y="623.5" font-size="14.5" text-anchor="middle">98°W</text>
<text x="618.3" y="623.5" font-size="14.5" text-anchor="middle">94°W</text>
<text x="218" y="619" font-size="14.5">Min= .0546 Max= 1</text>
<rect x="162.20" y="628.2" width="32.17" height="13.6" fill="#0000ff" stroke="#111" stroke-width="0.5"/>
<rect x="194.37" y="628.2" width="32.17" height="13.6" fill="#0064ff" stroke="#111" stroke-width="0.5"/>
<rect x="226.54" y="628.2" width="32.17" height="13.6" fill="#00c8ff" stroke="#111" stroke-width="0.5"/>
<rect x="258.71" y="628.2" width="32.17" height="13.6" fill="#00e6c8" stroke="#111" stroke-width="0.5"/>
<rect x="290.88" y="628.2" width="32.17" height="13.6" fill="#00cd6e" stroke="#111" stroke-width="0.5"/>
<rect x="323.05" y="628.2" width="32.17" height="13.6" fill="#06b414" stroke="#111" stroke-width="0.5"/>
<rect x="355.22" y="628.2" width="32.17" height="13.6" fill="#6ed20a" stroke="#111" stroke-width="0.5"/>
<rect x="387.39" y="628.2" width="32.17" height="13.6" fill="#c8eb0a" stroke="#111" stroke-width="0.5"/>
<rect x="419.56" y="628.2" width="32.17" height="13.6" fill="#fff000" stroke="#111" stroke-width="0.5"/>
<rect x="451.73" y="628.2" width="32.17" height="13.6" fill="#ffc800" stroke="#111" stroke-width="0.5"/>
<rect x="483.90" y="628.2" width="32.17" height="13.6" fill="#ffa000" stroke="#111" stroke-width="0.5"/>
<rect x="516.07" y="628.2" width="32.17" height="13.6" fill="#ff6400" stroke="#111" stroke-width="0.5"/>
<rect x="548.24" y="628.2" width="32.17" height="13.6" fill="#ff2800" stroke="#111" stroke-width="0.5"/>
<rect x="580.41" y="628.2" width="32.17" height="13.6" fill="#e1001e" stroke="#111" stroke-width="0.5"/>
<rect x="612.58" y="628.2" width="32.17" height="13.6" fill="#a0005a" stroke="#111" stroke-width="0.5"/>
<rect x="644.75" y="628.2" width="32.17" height="13.6" fill="#5a0096" stroke="#111" stroke-width="0.5"/>
<text x="194.4" y="656.6" font-size="13.8" text-anchor="middle">0.1</text>
<text x="258.7" y="656.6" font-size="13.8" text-anchor="middle">0.2</text>
<text x="323.1" y="656.6" font-size="13.8" text-anchor="middle">0.3</text>
<text x="387.4" y="656.6" font-size="13.8" text-anchor="middle">0.4</text>
<text x="451.7" y="656.6" font-size="13.8" text-anchor="middle">0.5</text>
<text x="516.1" y="656.6" font-size="13.8" text-anchor="middle">0.6</text>
<text x="580.4" y="656.6" font-size="13.8" text-anchor="middle">0.7</text>
<text x="644.8" y="656.6" font-size="13.8" text-anchor="middle">0.8</text>
</svg>
</body></html>
